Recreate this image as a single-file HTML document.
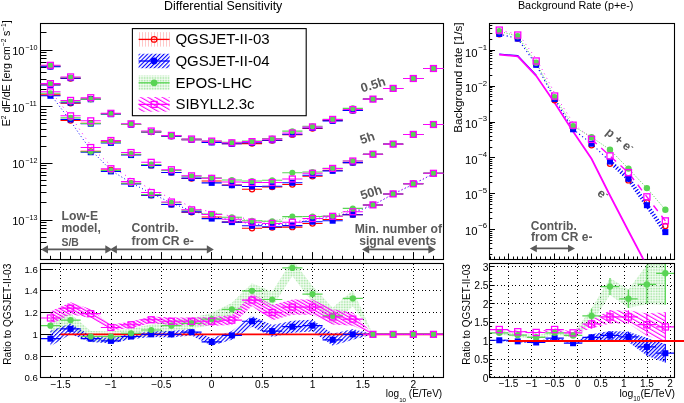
<!DOCTYPE html>
<html><head><meta charset="utf-8"><style>
html,body{margin:0;padding:0;background:#fff;width:684px;height:403px;overflow:hidden}
svg{display:block;font-family:'Liberation Sans',sans-serif;will-change:transform}
</style></head><body>
<svg width="684" height="403" viewBox="0 0 684 403">
<defs>
<pattern id="hb" patternUnits="userSpaceOnUse" width="2.9" height="2.9" patternTransform="rotate(45)"><rect x="0" y="0" width="1.1" height="2.9" fill="#0000ff"/></pattern>
<pattern id="hm" patternUnits="userSpaceOnUse" width="2.8" height="2.8" patternTransform="rotate(-60)"><rect x="0" y="0" width="1.25" height="2.8" fill="#ff00ff"/></pattern>
<pattern id="hm2" patternUnits="userSpaceOnUse" width="3.6" height="3.6" patternTransform="rotate(-60)"><rect x="0" y="0" width="1.1" height="3.6" fill="#ff00ff"/></pattern>
<pattern id="hb2" patternUnits="userSpaceOnUse" width="2.7" height="2.7" patternTransform="rotate(45)"><rect x="0" y="0" width="1.2" height="2.7" fill="#0000ff"/></pattern>
<pattern id="hg" patternUnits="userSpaceOnUse" width="1.6" height="1.6"><rect x="0" y="0" width="1" height="1" fill="#9ee49c"/></pattern>
<pattern id="hr" patternUnits="userSpaceOnUse" width="3" height="3"><rect x="0" y="0" width="1" height="3" fill="#ffcccc"/></pattern>
<clipPath id="cLT"><rect x="40.5" y="23.2" width="403.2" height="236.2"/></clipPath>
<clipPath id="cLR"><rect x="40.5" y="263.4" width="403.2" height="114.5"/></clipPath>
<clipPath id="cRT"><rect x="490" y="23.4" width="184.6" height="236"/></clipPath>
<clipPath id="cRR"><rect x="490" y="263.6" width="184.6" height="114.4"/></clipPath>
</defs>
<text x="223.2" y="10" font-size="12.4" text-anchor="middle" fill="#000" font-weight="normal">Differential Sensitivity</text>
<text x="575.7" y="9" font-size="10.8" text-anchor="middle" fill="#000" font-weight="normal">Background Rate (p+e-)</text>
<line x1="40.5" y1="259.5" x2="46.5" y2="259.5" stroke="#000" stroke-width="1"/>
<line x1="40.5" y1="249.5" x2="46.5" y2="249.5" stroke="#000" stroke-width="1"/>
<line x1="40.5" y1="242.5" x2="46.5" y2="242.5" stroke="#000" stroke-width="1"/>
<line x1="40.5" y1="237.5" x2="46.5" y2="237.5" stroke="#000" stroke-width="1"/>
<line x1="40.5" y1="232.5" x2="46.5" y2="232.5" stroke="#000" stroke-width="1"/>
<line x1="40.5" y1="228.5" x2="46.5" y2="228.5" stroke="#000" stroke-width="1"/>
<line x1="40.5" y1="225.5" x2="46.5" y2="225.5" stroke="#000" stroke-width="1"/>
<line x1="40.5" y1="222.5" x2="46.5" y2="222.5" stroke="#000" stroke-width="1"/>
<line x1="40.5" y1="220.5" x2="52.5" y2="220.5" stroke="#000" stroke-width="1"/>
<line x1="40.5" y1="202.5" x2="46.5" y2="202.5" stroke="#000" stroke-width="1"/>
<line x1="40.5" y1="192.5" x2="46.5" y2="192.5" stroke="#000" stroke-width="1"/>
<line x1="40.5" y1="185.5" x2="46.5" y2="185.5" stroke="#000" stroke-width="1"/>
<line x1="40.5" y1="180.5" x2="46.5" y2="180.5" stroke="#000" stroke-width="1"/>
<line x1="40.5" y1="175.5" x2="46.5" y2="175.5" stroke="#000" stroke-width="1"/>
<line x1="40.5" y1="172.5" x2="46.5" y2="172.5" stroke="#000" stroke-width="1"/>
<line x1="40.5" y1="168.5" x2="46.5" y2="168.5" stroke="#000" stroke-width="1"/>
<line x1="40.5" y1="165.5" x2="46.5" y2="165.5" stroke="#000" stroke-width="1"/>
<line x1="40.5" y1="163.5" x2="52.5" y2="163.5" stroke="#000" stroke-width="1"/>
<line x1="40.5" y1="146.5" x2="46.5" y2="146.5" stroke="#000" stroke-width="1"/>
<line x1="40.5" y1="136.5" x2="46.5" y2="136.5" stroke="#000" stroke-width="1"/>
<line x1="40.5" y1="129.5" x2="46.5" y2="129.5" stroke="#000" stroke-width="1"/>
<line x1="40.5" y1="123.5" x2="46.5" y2="123.5" stroke="#000" stroke-width="1"/>
<line x1="40.5" y1="119.5" x2="46.5" y2="119.5" stroke="#000" stroke-width="1"/>
<line x1="40.5" y1="115.5" x2="46.5" y2="115.5" stroke="#000" stroke-width="1"/>
<line x1="40.5" y1="112.5" x2="46.5" y2="112.5" stroke="#000" stroke-width="1"/>
<line x1="40.5" y1="109.5" x2="46.5" y2="109.5" stroke="#000" stroke-width="1"/>
<line x1="40.5" y1="106.5" x2="52.5" y2="106.5" stroke="#000" stroke-width="1"/>
<line x1="40.5" y1="89.5" x2="46.5" y2="89.5" stroke="#000" stroke-width="1"/>
<line x1="40.5" y1="79.5" x2="46.5" y2="79.5" stroke="#000" stroke-width="1"/>
<line x1="40.5" y1="72.5" x2="46.5" y2="72.5" stroke="#000" stroke-width="1"/>
<line x1="40.5" y1="67.5" x2="46.5" y2="67.5" stroke="#000" stroke-width="1"/>
<line x1="40.5" y1="62.5" x2="46.5" y2="62.5" stroke="#000" stroke-width="1"/>
<line x1="40.5" y1="58.5" x2="46.5" y2="58.5" stroke="#000" stroke-width="1"/>
<line x1="40.5" y1="55.5" x2="46.5" y2="55.5" stroke="#000" stroke-width="1"/>
<line x1="40.5" y1="52.5" x2="46.5" y2="52.5" stroke="#000" stroke-width="1"/>
<line x1="40.5" y1="50.5" x2="52.5" y2="50.5" stroke="#000" stroke-width="1"/>
<line x1="40.5" y1="32.5" x2="46.5" y2="32.5" stroke="#000" stroke-width="1"/>
<text x="24.6" y="55" font-size="11.2" text-anchor="end" fill="#000" font-weight="normal">10</text>
<text x="25.2" y="49.8" font-size="7.2" text-anchor="start" fill="#000" font-weight="normal">&#8722;10</text>
<text x="24.6" y="111.6" font-size="11.2" text-anchor="end" fill="#000" font-weight="normal">10</text>
<text x="25.2" y="106.4" font-size="7.2" text-anchor="start" fill="#000" font-weight="normal">&#8722;11</text>
<text x="24.6" y="168.2" font-size="11.2" text-anchor="end" fill="#000" font-weight="normal">10</text>
<text x="25.2" y="163" font-size="7.2" text-anchor="start" fill="#000" font-weight="normal">&#8722;12</text>
<text x="24.6" y="224.8" font-size="11.2" text-anchor="end" fill="#000" font-weight="normal">10</text>
<text x="25.2" y="219.6" font-size="7.2" text-anchor="start" fill="#000" font-weight="normal">&#8722;13</text>
<line x1="40.5" y1="259.5" x2="40.5" y2="255.8" stroke="#000" stroke-width="1"/>
<line x1="50.5" y1="259.5" x2="50.5" y2="255.8" stroke="#000" stroke-width="1"/>
<line x1="60.5" y1="259.5" x2="60.5" y2="252.1" stroke="#000" stroke-width="1"/>
<line x1="70.5" y1="259.5" x2="70.5" y2="255.8" stroke="#000" stroke-width="1"/>
<line x1="80.5" y1="259.5" x2="80.5" y2="255.8" stroke="#000" stroke-width="1"/>
<line x1="90.5" y1="259.5" x2="90.5" y2="255.8" stroke="#000" stroke-width="1"/>
<line x1="101.5" y1="259.5" x2="101.5" y2="255.8" stroke="#000" stroke-width="1"/>
<line x1="111.5" y1="259.5" x2="111.5" y2="252.1" stroke="#000" stroke-width="1"/>
<line x1="121.5" y1="259.5" x2="121.5" y2="255.8" stroke="#000" stroke-width="1"/>
<line x1="131.5" y1="259.5" x2="131.5" y2="255.8" stroke="#000" stroke-width="1"/>
<line x1="141.5" y1="259.5" x2="141.5" y2="255.8" stroke="#000" stroke-width="1"/>
<line x1="151.5" y1="259.5" x2="151.5" y2="255.8" stroke="#000" stroke-width="1"/>
<line x1="161.5" y1="259.5" x2="161.5" y2="252.1" stroke="#000" stroke-width="1"/>
<line x1="171.5" y1="259.5" x2="171.5" y2="255.8" stroke="#000" stroke-width="1"/>
<line x1="181.5" y1="259.5" x2="181.5" y2="255.8" stroke="#000" stroke-width="1"/>
<line x1="191.5" y1="259.5" x2="191.5" y2="255.8" stroke="#000" stroke-width="1"/>
<line x1="201.5" y1="259.5" x2="201.5" y2="255.8" stroke="#000" stroke-width="1"/>
<line x1="211.5" y1="259.5" x2="211.5" y2="252.1" stroke="#000" stroke-width="1"/>
<line x1="221.5" y1="259.5" x2="221.5" y2="255.8" stroke="#000" stroke-width="1"/>
<line x1="232.5" y1="259.5" x2="232.5" y2="255.8" stroke="#000" stroke-width="1"/>
<line x1="242.5" y1="259.5" x2="242.5" y2="255.8" stroke="#000" stroke-width="1"/>
<line x1="252.5" y1="259.5" x2="252.5" y2="255.8" stroke="#000" stroke-width="1"/>
<line x1="262.5" y1="259.5" x2="262.5" y2="252.1" stroke="#000" stroke-width="1"/>
<line x1="272.5" y1="259.5" x2="272.5" y2="255.8" stroke="#000" stroke-width="1"/>
<line x1="282.5" y1="259.5" x2="282.5" y2="255.8" stroke="#000" stroke-width="1"/>
<line x1="292.5" y1="259.5" x2="292.5" y2="255.8" stroke="#000" stroke-width="1"/>
<line x1="302.5" y1="259.5" x2="302.5" y2="255.8" stroke="#000" stroke-width="1"/>
<line x1="312.5" y1="259.5" x2="312.5" y2="252.1" stroke="#000" stroke-width="1"/>
<line x1="322.5" y1="259.5" x2="322.5" y2="255.8" stroke="#000" stroke-width="1"/>
<line x1="332.5" y1="259.5" x2="332.5" y2="255.8" stroke="#000" stroke-width="1"/>
<line x1="342.5" y1="259.5" x2="342.5" y2="255.8" stroke="#000" stroke-width="1"/>
<line x1="353.5" y1="259.5" x2="353.5" y2="255.8" stroke="#000" stroke-width="1"/>
<line x1="363.5" y1="259.5" x2="363.5" y2="252.1" stroke="#000" stroke-width="1"/>
<line x1="373.5" y1="259.5" x2="373.5" y2="255.8" stroke="#000" stroke-width="1"/>
<line x1="383.5" y1="259.5" x2="383.5" y2="255.8" stroke="#000" stroke-width="1"/>
<line x1="393.5" y1="259.5" x2="393.5" y2="255.8" stroke="#000" stroke-width="1"/>
<line x1="403.5" y1="259.5" x2="403.5" y2="255.8" stroke="#000" stroke-width="1"/>
<line x1="413.5" y1="259.5" x2="413.5" y2="252.1" stroke="#000" stroke-width="1"/>
<line x1="423.5" y1="259.5" x2="423.5" y2="255.8" stroke="#000" stroke-width="1"/>
<line x1="433.5" y1="259.5" x2="433.5" y2="255.8" stroke="#000" stroke-width="1"/>
<line x1="443.5" y1="259.5" x2="443.5" y2="255.8" stroke="#000" stroke-width="1"/>
<rect x="40.5" y="23.5" width="403" height="236" fill="none" stroke="#000" stroke-width="1.1"/>
<text transform="translate(10.4,126.3) rotate(-90)" font-size="10.6">E<tspan font-size="6.6" dy="-4.6">2</tspan><tspan dy="4.6"> dF/dE [erg cm</tspan><tspan font-size="6.6" dy="-4.6">&#8722;2</tspan><tspan dy="4.6" dx="-0.5"> s</tspan><tspan font-size="6.6" dy="-4.6">&#8722;1</tspan><tspan dy="4.6">]</tspan></text>
<g clip-path="url(#cLT)">
<polyline points="51,95 70.6,121 80,135 90.9,150 111.2,170.5 131.3,183 151.7,193.5 171.5,203 191.9,211 211.8,216 232.1,220.5 252,224 272.3,225 292.4,223.5 312.8,219.5 333,217 352.9,212.5 372.7,205.5 392.6,194.5 412.9,184.5 433.2,174" fill="none" stroke="#0000ff" stroke-width="1" stroke-dasharray="1 2.4"/>
<polyline points="56,98 74,121 84,136 96,152 115,169 135,181 155,191 175,200 195,208 215,213 236,217 256,220" fill="none" stroke="#ff00ff" stroke-width="1" stroke-dasharray="1 4.5"/>
<polyline points="231.86,217.32 252.02,220.81 272.18,221.29 292.34,216.6 312.5,216.47 332.66,216.11 352.82,208.39" fill="none" stroke="#59d454" stroke-width="0.9" stroke-dasharray="1 2"/>
<polyline points="231.86,219.2 252.02,222.2 272.18,223.4 292.34,222.2 312.5,218.5 332.66,216.3 352.82,211.8 372.98,204.9 393.14,193.9 413.3,183.8 433.46,173.3" fill="none" stroke="#ff00ff" stroke-width="0.9" stroke-dasharray="1 3"/>
<line x1="40.34" y1="66.33" x2="60.5" y2="66.33" stroke="#ff0000" stroke-width="1.05"/>
<line x1="40.34" y1="66.63" x2="60.5" y2="66.63" stroke="#0000ff" stroke-width="1.05"/>
<line x1="40.34" y1="65.76" x2="60.5" y2="65.76" stroke="#59d454" stroke-width="1.05"/>
<line x1="40.34" y1="65.3" x2="60.5" y2="65.3" stroke="#ff00ff" stroke-width="1.05"/>
<line x1="60.5" y1="78.49" x2="80.66" y2="78.49" stroke="#ff0000" stroke-width="1.05"/>
<line x1="60.5" y1="78.13" x2="80.66" y2="78.13" stroke="#0000ff" stroke-width="1.05"/>
<line x1="60.5" y1="77.59" x2="80.66" y2="77.59" stroke="#59d454" stroke-width="1.05"/>
<line x1="60.5" y1="76.9" x2="80.66" y2="76.9" stroke="#ff00ff" stroke-width="1.05"/>
<line x1="80.66" y1="98.98" x2="100.82" y2="98.98" stroke="#ff0000" stroke-width="1.05"/>
<line x1="80.66" y1="99.28" x2="100.82" y2="99.28" stroke="#0000ff" stroke-width="1.05"/>
<line x1="80.66" y1="99.13" x2="100.82" y2="99.13" stroke="#59d454" stroke-width="1.05"/>
<line x1="80.66" y1="97.7" x2="100.82" y2="97.7" stroke="#ff00ff" stroke-width="1.05"/>
<line x1="100.82" y1="113.75" x2="120.98" y2="113.75" stroke="#ff0000" stroke-width="1.05"/>
<line x1="100.82" y1="114.21" x2="120.98" y2="114.21" stroke="#0000ff" stroke-width="1.05"/>
<line x1="100.82" y1="113.9" x2="120.98" y2="113.9" stroke="#59d454" stroke-width="1.05"/>
<line x1="100.82" y1="113.3" x2="120.98" y2="113.3" stroke="#ff00ff" stroke-width="1.05"/>
<line x1="120.98" y1="124.42" x2="141.14" y2="124.42" stroke="#ff0000" stroke-width="1.05"/>
<line x1="120.98" y1="124.57" x2="141.14" y2="124.57" stroke="#0000ff" stroke-width="1.05"/>
<line x1="120.98" y1="124.35" x2="141.14" y2="124.35" stroke="#59d454" stroke-width="1.05"/>
<line x1="120.98" y1="123.8" x2="141.14" y2="123.8" stroke="#ff00ff" stroke-width="1.05"/>
<line x1="141.14" y1="131.93" x2="161.3" y2="131.93" stroke="#ff0000" stroke-width="1.05"/>
<line x1="141.14" y1="131.93" x2="161.3" y2="131.93" stroke="#0000ff" stroke-width="1.05"/>
<line x1="141.14" y1="131.64" x2="161.3" y2="131.64" stroke="#59d454" stroke-width="1.05"/>
<line x1="141.14" y1="131" x2="161.3" y2="131" stroke="#ff00ff" stroke-width="1.05"/>
<line x1="161.3" y1="136.24" x2="181.46" y2="136.24" stroke="#ff0000" stroke-width="1.05"/>
<line x1="161.3" y1="136.24" x2="181.46" y2="136.24" stroke="#0000ff" stroke-width="1.05"/>
<line x1="161.3" y1="135.67" x2="181.46" y2="135.67" stroke="#59d454" stroke-width="1.05"/>
<line x1="161.3" y1="135.4" x2="181.46" y2="135.4" stroke="#ff00ff" stroke-width="1.05"/>
<line x1="181.46" y1="139.84" x2="201.62" y2="139.84" stroke="#ff0000" stroke-width="1.05"/>
<line x1="181.46" y1="139.69" x2="201.62" y2="139.69" stroke="#0000ff" stroke-width="1.05"/>
<line x1="181.46" y1="139.13" x2="201.62" y2="139.13" stroke="#59d454" stroke-width="1.05"/>
<line x1="181.46" y1="139" x2="201.62" y2="139" stroke="#ff00ff" stroke-width="1.05"/>
<line x1="201.62" y1="141.94" x2="221.78" y2="141.94" stroke="#ff0000" stroke-width="1.05"/>
<line x1="201.62" y1="142.47" x2="221.78" y2="142.47" stroke="#0000ff" stroke-width="1.05"/>
<line x1="201.62" y1="140.97" x2="221.78" y2="140.97" stroke="#59d454" stroke-width="1.05"/>
<line x1="201.62" y1="141.1" x2="221.78" y2="141.1" stroke="#ff00ff" stroke-width="1.05"/>
<line x1="221.78" y1="143.7" x2="241.94" y2="143.7" stroke="#ff0000" stroke-width="1.05"/>
<line x1="221.78" y1="143.78" x2="241.94" y2="143.78" stroke="#0000ff" stroke-width="1.05"/>
<line x1="221.78" y1="142.17" x2="241.94" y2="142.17" stroke="#59d454" stroke-width="1.05"/>
<line x1="221.78" y1="142.8" x2="241.94" y2="142.8" stroke="#ff00ff" stroke-width="1.05"/>
<line x1="241.94" y1="143.62" x2="262.1" y2="143.62" stroke="#ff0000" stroke-width="1.05"/>
<line x1="241.94" y1="142.78" x2="262.1" y2="142.78" stroke="#0000ff" stroke-width="1.05"/>
<line x1="241.94" y1="141.14" x2="262.1" y2="141.14" stroke="#59d454" stroke-width="1.05"/>
<line x1="241.94" y1="141.6" x2="262.1" y2="141.6" stroke="#ff00ff" stroke-width="1.05"/>
<line x1="262.1" y1="140.44" x2="282.26" y2="140.44" stroke="#ff0000" stroke-width="1.05"/>
<line x1="262.1" y1="140.23" x2="282.26" y2="140.23" stroke="#0000ff" stroke-width="1.05"/>
<line x1="262.1" y1="138.4" x2="282.26" y2="138.4" stroke="#59d454" stroke-width="1.05"/>
<line x1="262.1" y1="139.1" x2="282.26" y2="139.1" stroke="#ff00ff" stroke-width="1.05"/>
<line x1="282.26" y1="134.65" x2="302.42" y2="134.65" stroke="#ff0000" stroke-width="1.05"/>
<line x1="282.26" y1="134.15" x2="302.42" y2="134.15" stroke="#0000ff" stroke-width="1.05"/>
<line x1="282.26" y1="131.13" x2="302.42" y2="131.13" stroke="#59d454" stroke-width="1.05"/>
<line x1="282.26" y1="133" x2="302.42" y2="133" stroke="#ff00ff" stroke-width="1.05"/>
<line x1="302.42" y1="128.55" x2="322.58" y2="128.55" stroke="#ff0000" stroke-width="1.05"/>
<line x1="302.42" y1="127.98" x2="322.58" y2="127.98" stroke="#0000ff" stroke-width="1.05"/>
<line x1="302.42" y1="126.22" x2="322.58" y2="126.22" stroke="#59d454" stroke-width="1.05"/>
<line x1="302.42" y1="126.9" x2="322.58" y2="126.9" stroke="#ff00ff" stroke-width="1.05"/>
<line x1="322.58" y1="120.49" x2="342.74" y2="120.49" stroke="#ff0000" stroke-width="1.05"/>
<line x1="322.58" y1="120.87" x2="342.74" y2="120.87" stroke="#0000ff" stroke-width="1.05"/>
<line x1="322.58" y1="119.34" x2="342.74" y2="119.34" stroke="#59d454" stroke-width="1.05"/>
<line x1="322.58" y1="119.4" x2="342.74" y2="119.4" stroke="#ff00ff" stroke-width="1.05"/>
<line x1="342.74" y1="110.47" x2="362.9" y2="110.47" stroke="#ff0000" stroke-width="1.05"/>
<line x1="342.74" y1="110.47" x2="362.9" y2="110.47" stroke="#0000ff" stroke-width="1.05"/>
<line x1="342.74" y1="108.36" x2="362.9" y2="108.36" stroke="#59d454" stroke-width="1.05"/>
<line x1="342.74" y1="109.5" x2="362.9" y2="109.5" stroke="#ff00ff" stroke-width="1.05"/>
<line x1="362.9" y1="99.1" x2="383.06" y2="99.1" stroke="#ff0000" stroke-width="1.05"/>
<line x1="362.9" y1="99.1" x2="383.06" y2="99.1" stroke="#0000ff" stroke-width="1.05"/>
<line x1="362.9" y1="99.1" x2="383.06" y2="99.1" stroke="#59d454" stroke-width="1.05"/>
<line x1="362.9" y1="99.1" x2="383.06" y2="99.1" stroke="#ff00ff" stroke-width="1.05"/>
<line x1="383.06" y1="88.4" x2="403.22" y2="88.4" stroke="#ff0000" stroke-width="1.05"/>
<line x1="383.06" y1="88.4" x2="403.22" y2="88.4" stroke="#0000ff" stroke-width="1.05"/>
<line x1="383.06" y1="88.4" x2="403.22" y2="88.4" stroke="#59d454" stroke-width="1.05"/>
<line x1="383.06" y1="88.4" x2="403.22" y2="88.4" stroke="#ff00ff" stroke-width="1.05"/>
<line x1="403.22" y1="78.5" x2="423.38" y2="78.5" stroke="#ff0000" stroke-width="1.05"/>
<line x1="403.22" y1="78.5" x2="423.38" y2="78.5" stroke="#0000ff" stroke-width="1.05"/>
<line x1="403.22" y1="78.5" x2="423.38" y2="78.5" stroke="#59d454" stroke-width="1.05"/>
<line x1="403.22" y1="78.5" x2="423.38" y2="78.5" stroke="#ff00ff" stroke-width="1.05"/>
<line x1="423.38" y1="68.5" x2="443.54" y2="68.5" stroke="#ff0000" stroke-width="1.05"/>
<line x1="423.38" y1="68.5" x2="443.54" y2="68.5" stroke="#0000ff" stroke-width="1.05"/>
<line x1="423.38" y1="68.5" x2="443.54" y2="68.5" stroke="#59d454" stroke-width="1.05"/>
<line x1="423.38" y1="68.5" x2="443.54" y2="68.5" stroke="#ff00ff" stroke-width="1.05"/>
<circle cx="50.42" cy="66.33" r="2.6" fill="none" stroke="#ff0000" stroke-width="1.2"/>
<rect x="47.42" y="63.63" width="6" height="6" fill="#0000ff"/>
<circle cx="50.42" cy="65.76" r="3" fill="#59d454"/>
<rect x="47.47" y="62.35" width="5.9" height="5.9" fill="none" stroke="#ff00ff" stroke-width="1.3"/>
<circle cx="70.58" cy="78.49" r="2.6" fill="none" stroke="#ff0000" stroke-width="1.2"/>
<rect x="67.58" y="75.13" width="6" height="6" fill="#0000ff"/>
<circle cx="70.58" cy="77.59" r="3" fill="#59d454"/>
<rect x="67.63" y="73.95" width="5.9" height="5.9" fill="none" stroke="#ff00ff" stroke-width="1.3"/>
<circle cx="90.74" cy="98.98" r="2.6" fill="none" stroke="#ff0000" stroke-width="1.2"/>
<rect x="87.74" y="96.28" width="6" height="6" fill="#0000ff"/>
<circle cx="90.74" cy="99.13" r="3" fill="#59d454"/>
<rect x="87.79" y="94.75" width="5.9" height="5.9" fill="none" stroke="#ff00ff" stroke-width="1.3"/>
<circle cx="110.9" cy="113.75" r="2.6" fill="none" stroke="#ff0000" stroke-width="1.2"/>
<rect x="107.9" y="111.21" width="6" height="6" fill="#0000ff"/>
<circle cx="110.9" cy="113.9" r="3" fill="#59d454"/>
<rect x="107.95" y="110.35" width="5.9" height="5.9" fill="none" stroke="#ff00ff" stroke-width="1.3"/>
<circle cx="131.06" cy="124.42" r="2.6" fill="none" stroke="#ff0000" stroke-width="1.2"/>
<rect x="128.06" y="121.57" width="6" height="6" fill="#0000ff"/>
<circle cx="131.06" cy="124.35" r="3" fill="#59d454"/>
<rect x="128.11" y="120.85" width="5.9" height="5.9" fill="none" stroke="#ff00ff" stroke-width="1.3"/>
<circle cx="151.22" cy="131.93" r="2.6" fill="none" stroke="#ff0000" stroke-width="1.2"/>
<rect x="148.22" y="128.93" width="6" height="6" fill="#0000ff"/>
<circle cx="151.22" cy="131.64" r="3" fill="#59d454"/>
<rect x="148.27" y="128.05" width="5.9" height="5.9" fill="none" stroke="#ff00ff" stroke-width="1.3"/>
<circle cx="171.38" cy="136.24" r="2.6" fill="none" stroke="#ff0000" stroke-width="1.2"/>
<rect x="168.38" y="133.24" width="6" height="6" fill="#0000ff"/>
<circle cx="171.38" cy="135.67" r="3" fill="#59d454"/>
<rect x="168.43" y="132.45" width="5.9" height="5.9" fill="none" stroke="#ff00ff" stroke-width="1.3"/>
<circle cx="191.54" cy="139.84" r="2.6" fill="none" stroke="#ff0000" stroke-width="1.2"/>
<rect x="188.54" y="136.69" width="6" height="6" fill="#0000ff"/>
<circle cx="191.54" cy="139.13" r="3" fill="#59d454"/>
<rect x="188.59" y="136.05" width="5.9" height="5.9" fill="none" stroke="#ff00ff" stroke-width="1.3"/>
<circle cx="211.7" cy="141.94" r="2.6" fill="none" stroke="#ff0000" stroke-width="1.2"/>
<rect x="208.7" y="139.47" width="6" height="6" fill="#0000ff"/>
<circle cx="211.7" cy="140.97" r="3" fill="#59d454"/>
<rect x="208.75" y="138.15" width="5.9" height="5.9" fill="none" stroke="#ff00ff" stroke-width="1.3"/>
<circle cx="231.86" cy="143.7" r="2.6" fill="none" stroke="#ff0000" stroke-width="1.2"/>
<rect x="228.86" y="140.78" width="6" height="6" fill="#0000ff"/>
<circle cx="231.86" cy="142.17" r="3" fill="#59d454"/>
<rect x="228.91" y="139.85" width="5.9" height="5.9" fill="none" stroke="#ff00ff" stroke-width="1.3"/>
<circle cx="252.02" cy="143.62" r="2.6" fill="none" stroke="#ff0000" stroke-width="1.2"/>
<rect x="249.02" y="139.78" width="6" height="6" fill="#0000ff"/>
<circle cx="252.02" cy="141.14" r="3" fill="#59d454"/>
<rect x="249.07" y="138.65" width="5.9" height="5.9" fill="none" stroke="#ff00ff" stroke-width="1.3"/>
<circle cx="272.18" cy="140.44" r="2.6" fill="none" stroke="#ff0000" stroke-width="1.2"/>
<rect x="269.18" y="137.23" width="6" height="6" fill="#0000ff"/>
<circle cx="272.18" cy="138.4" r="3" fill="#59d454"/>
<rect x="269.23" y="136.15" width="5.9" height="5.9" fill="none" stroke="#ff00ff" stroke-width="1.3"/>
<circle cx="292.34" cy="134.65" r="2.6" fill="none" stroke="#ff0000" stroke-width="1.2"/>
<rect x="289.34" y="131.15" width="6" height="6" fill="#0000ff"/>
<circle cx="292.34" cy="131.13" r="3" fill="#59d454"/>
<rect x="289.39" y="130.05" width="5.9" height="5.9" fill="none" stroke="#ff00ff" stroke-width="1.3"/>
<circle cx="312.5" cy="128.55" r="2.6" fill="none" stroke="#ff0000" stroke-width="1.2"/>
<rect x="309.5" y="124.98" width="6" height="6" fill="#0000ff"/>
<circle cx="312.5" cy="126.22" r="3" fill="#59d454"/>
<rect x="309.55" y="123.95" width="5.9" height="5.9" fill="none" stroke="#ff00ff" stroke-width="1.3"/>
<circle cx="332.66" cy="120.49" r="2.6" fill="none" stroke="#ff0000" stroke-width="1.2"/>
<rect x="329.66" y="117.87" width="6" height="6" fill="#0000ff"/>
<circle cx="332.66" cy="119.34" r="3" fill="#59d454"/>
<rect x="329.71" y="116.45" width="5.9" height="5.9" fill="none" stroke="#ff00ff" stroke-width="1.3"/>
<circle cx="352.82" cy="110.47" r="2.6" fill="none" stroke="#ff0000" stroke-width="1.2"/>
<rect x="349.82" y="107.47" width="6" height="6" fill="#0000ff"/>
<circle cx="352.82" cy="108.36" r="3" fill="#59d454"/>
<rect x="349.87" y="106.55" width="5.9" height="5.9" fill="none" stroke="#ff00ff" stroke-width="1.3"/>
<circle cx="372.98" cy="99.1" r="2.6" fill="none" stroke="#ff0000" stroke-width="1.2"/>
<rect x="369.98" y="96.1" width="6" height="6" fill="#0000ff"/>
<circle cx="372.98" cy="99.1" r="3" fill="#59d454"/>
<rect x="370.03" y="96.15" width="5.9" height="5.9" fill="none" stroke="#ff00ff" stroke-width="1.3"/>
<circle cx="393.14" cy="88.4" r="2.6" fill="none" stroke="#ff0000" stroke-width="1.2"/>
<rect x="390.14" y="85.4" width="6" height="6" fill="#0000ff"/>
<circle cx="393.14" cy="88.4" r="3" fill="#59d454"/>
<rect x="390.19" y="85.45" width="5.9" height="5.9" fill="none" stroke="#ff00ff" stroke-width="1.3"/>
<circle cx="413.3" cy="78.5" r="2.6" fill="none" stroke="#ff0000" stroke-width="1.2"/>
<rect x="410.3" y="75.5" width="6" height="6" fill="#0000ff"/>
<circle cx="413.3" cy="78.5" r="3" fill="#59d454"/>
<rect x="410.35" y="75.55" width="5.9" height="5.9" fill="none" stroke="#ff00ff" stroke-width="1.3"/>
<circle cx="433.46" cy="68.5" r="2.6" fill="none" stroke="#ff0000" stroke-width="1.2"/>
<rect x="430.46" y="65.5" width="6" height="6" fill="#0000ff"/>
<circle cx="433.46" cy="68.5" r="3" fill="#59d454"/>
<rect x="430.51" y="65.55" width="5.9" height="5.9" fill="none" stroke="#ff00ff" stroke-width="1.3"/>
<line x1="40.34" y1="84.63" x2="60.5" y2="84.63" stroke="#ff0000" stroke-width="1.05"/>
<line x1="40.34" y1="84.93" x2="60.5" y2="84.93" stroke="#0000ff" stroke-width="1.05"/>
<line x1="40.34" y1="84.06" x2="60.5" y2="84.06" stroke="#59d454" stroke-width="1.05"/>
<line x1="40.34" y1="83.6" x2="60.5" y2="83.6" stroke="#ff00ff" stroke-width="1.05"/>
<line x1="60.5" y1="103.31" x2="80.66" y2="103.31" stroke="#ff0000" stroke-width="1.05"/>
<line x1="60.5" y1="102.65" x2="80.66" y2="102.65" stroke="#0000ff" stroke-width="1.05"/>
<line x1="60.5" y1="101.66" x2="80.66" y2="101.66" stroke="#59d454" stroke-width="1.05"/>
<line x1="60.5" y1="100.4" x2="80.66" y2="100.4" stroke="#ff00ff" stroke-width="1.05"/>
<line x1="80.66" y1="123.15" x2="100.82" y2="123.15" stroke="#ff0000" stroke-width="1.05"/>
<line x1="80.66" y1="123.7" x2="100.82" y2="123.7" stroke="#0000ff" stroke-width="1.05"/>
<line x1="80.66" y1="123.42" x2="100.82" y2="123.42" stroke="#59d454" stroke-width="1.05"/>
<line x1="80.66" y1="120.8" x2="100.82" y2="120.8" stroke="#ff00ff" stroke-width="1.05"/>
<line x1="100.82" y1="141.7" x2="120.98" y2="141.7" stroke="#ff0000" stroke-width="1.05"/>
<line x1="100.82" y1="142.92" x2="120.98" y2="142.92" stroke="#0000ff" stroke-width="1.05"/>
<line x1="100.82" y1="142.1" x2="120.98" y2="142.1" stroke="#59d454" stroke-width="1.05"/>
<line x1="100.82" y1="140.5" x2="120.98" y2="140.5" stroke="#ff00ff" stroke-width="1.05"/>
<line x1="120.98" y1="154.57" x2="141.14" y2="154.57" stroke="#ff0000" stroke-width="1.05"/>
<line x1="120.98" y1="155.07" x2="141.14" y2="155.07" stroke="#0000ff" stroke-width="1.05"/>
<line x1="120.98" y1="154.33" x2="141.14" y2="154.33" stroke="#59d454" stroke-width="1.05"/>
<line x1="120.98" y1="152.5" x2="141.14" y2="152.5" stroke="#ff00ff" stroke-width="1.05"/>
<line x1="141.14" y1="165.39" x2="161.3" y2="165.39" stroke="#ff0000" stroke-width="1.05"/>
<line x1="141.14" y1="165.39" x2="161.3" y2="165.39" stroke="#0000ff" stroke-width="1.05"/>
<line x1="141.14" y1="164.43" x2="161.3" y2="164.43" stroke="#59d454" stroke-width="1.05"/>
<line x1="141.14" y1="162.3" x2="161.3" y2="162.3" stroke="#ff00ff" stroke-width="1.05"/>
<line x1="161.3" y1="172.49" x2="181.46" y2="172.49" stroke="#ff0000" stroke-width="1.05"/>
<line x1="161.3" y1="172.49" x2="181.46" y2="172.49" stroke="#0000ff" stroke-width="1.05"/>
<line x1="161.3" y1="170.59" x2="181.46" y2="170.59" stroke="#59d454" stroke-width="1.05"/>
<line x1="161.3" y1="169.7" x2="181.46" y2="169.7" stroke="#ff00ff" stroke-width="1.05"/>
<line x1="181.46" y1="178.59" x2="201.62" y2="178.59" stroke="#ff0000" stroke-width="1.05"/>
<line x1="181.46" y1="178.1" x2="201.62" y2="178.1" stroke="#0000ff" stroke-width="1.05"/>
<line x1="181.46" y1="176.24" x2="201.62" y2="176.24" stroke="#59d454" stroke-width="1.05"/>
<line x1="181.46" y1="175.8" x2="201.62" y2="175.8" stroke="#ff00ff" stroke-width="1.05"/>
<line x1="201.62" y1="181.09" x2="221.78" y2="181.09" stroke="#ff0000" stroke-width="1.05"/>
<line x1="201.62" y1="182.87" x2="221.78" y2="182.87" stroke="#0000ff" stroke-width="1.05"/>
<line x1="201.62" y1="177.86" x2="221.78" y2="177.86" stroke="#59d454" stroke-width="1.05"/>
<line x1="201.62" y1="178.3" x2="221.78" y2="178.3" stroke="#ff00ff" stroke-width="1.05"/>
<line x1="221.78" y1="185" x2="241.94" y2="185" stroke="#ff0000" stroke-width="1.05"/>
<line x1="221.78" y1="185.25" x2="241.94" y2="185.25" stroke="#0000ff" stroke-width="1.05"/>
<line x1="221.78" y1="179.92" x2="241.94" y2="179.92" stroke="#59d454" stroke-width="1.05"/>
<line x1="221.78" y1="182" x2="241.94" y2="182" stroke="#ff00ff" stroke-width="1.05"/>
<line x1="241.94" y1="189.23" x2="262.1" y2="189.23" stroke="#ff0000" stroke-width="1.05"/>
<line x1="241.94" y1="186.45" x2="262.1" y2="186.45" stroke="#0000ff" stroke-width="1.05"/>
<line x1="241.94" y1="180.96" x2="262.1" y2="180.96" stroke="#59d454" stroke-width="1.05"/>
<line x1="241.94" y1="182.5" x2="262.1" y2="182.5" stroke="#ff00ff" stroke-width="1.05"/>
<line x1="262.1" y1="186.98" x2="282.26" y2="186.98" stroke="#ff0000" stroke-width="1.05"/>
<line x1="262.1" y1="186.26" x2="282.26" y2="186.26" stroke="#0000ff" stroke-width="1.05"/>
<line x1="262.1" y1="180.16" x2="282.26" y2="180.16" stroke="#59d454" stroke-width="1.05"/>
<line x1="262.1" y1="182.5" x2="282.26" y2="182.5" stroke="#ff00ff" stroke-width="1.05"/>
<line x1="282.26" y1="184.49" x2="302.42" y2="184.49" stroke="#ff0000" stroke-width="1.05"/>
<line x1="282.26" y1="182.82" x2="302.42" y2="182.82" stroke="#0000ff" stroke-width="1.05"/>
<line x1="282.26" y1="172.78" x2="302.42" y2="172.78" stroke="#59d454" stroke-width="1.05"/>
<line x1="282.26" y1="179" x2="302.42" y2="179" stroke="#ff00ff" stroke-width="1.05"/>
<line x1="302.42" y1="176.32" x2="322.58" y2="176.32" stroke="#ff0000" stroke-width="1.05"/>
<line x1="302.42" y1="175.28" x2="322.58" y2="175.28" stroke="#0000ff" stroke-width="1.05"/>
<line x1="302.42" y1="172.06" x2="322.58" y2="172.06" stroke="#59d454" stroke-width="1.05"/>
<line x1="302.42" y1="173.3" x2="322.58" y2="173.3" stroke="#ff00ff" stroke-width="1.05"/>
<line x1="322.58" y1="170.22" x2="342.74" y2="170.22" stroke="#ff0000" stroke-width="1.05"/>
<line x1="322.58" y1="170.85" x2="342.74" y2="170.85" stroke="#0000ff" stroke-width="1.05"/>
<line x1="322.58" y1="168.29" x2="342.74" y2="168.29" stroke="#59d454" stroke-width="1.05"/>
<line x1="322.58" y1="168.4" x2="342.74" y2="168.4" stroke="#ff00ff" stroke-width="1.05"/>
<line x1="342.74" y1="162.61" x2="362.9" y2="162.61" stroke="#ff0000" stroke-width="1.05"/>
<line x1="342.74" y1="162.61" x2="362.9" y2="162.61" stroke="#0000ff" stroke-width="1.05"/>
<line x1="342.74" y1="161" x2="362.9" y2="161" stroke="#59d454" stroke-width="1.05"/>
<line x1="342.74" y1="161" x2="362.9" y2="161" stroke="#ff00ff" stroke-width="1.05"/>
<line x1="362.9" y1="154.2" x2="383.06" y2="154.2" stroke="#ff0000" stroke-width="1.05"/>
<line x1="362.9" y1="154.2" x2="383.06" y2="154.2" stroke="#0000ff" stroke-width="1.05"/>
<line x1="362.9" y1="154.2" x2="383.06" y2="154.2" stroke="#59d454" stroke-width="1.05"/>
<line x1="362.9" y1="154.2" x2="383.06" y2="154.2" stroke="#ff00ff" stroke-width="1.05"/>
<line x1="383.06" y1="144.1" x2="403.22" y2="144.1" stroke="#ff0000" stroke-width="1.05"/>
<line x1="383.06" y1="144.1" x2="403.22" y2="144.1" stroke="#0000ff" stroke-width="1.05"/>
<line x1="383.06" y1="144.1" x2="403.22" y2="144.1" stroke="#59d454" stroke-width="1.05"/>
<line x1="383.06" y1="144.1" x2="403.22" y2="144.1" stroke="#ff00ff" stroke-width="1.05"/>
<line x1="403.22" y1="134.4" x2="423.38" y2="134.4" stroke="#ff0000" stroke-width="1.05"/>
<line x1="403.22" y1="134.4" x2="423.38" y2="134.4" stroke="#0000ff" stroke-width="1.05"/>
<line x1="403.22" y1="134.4" x2="423.38" y2="134.4" stroke="#59d454" stroke-width="1.05"/>
<line x1="403.22" y1="134.4" x2="423.38" y2="134.4" stroke="#ff00ff" stroke-width="1.05"/>
<line x1="423.38" y1="124.5" x2="443.54" y2="124.5" stroke="#ff0000" stroke-width="1.05"/>
<line x1="423.38" y1="124.5" x2="443.54" y2="124.5" stroke="#0000ff" stroke-width="1.05"/>
<line x1="423.38" y1="124.5" x2="443.54" y2="124.5" stroke="#59d454" stroke-width="1.05"/>
<line x1="423.38" y1="124.5" x2="443.54" y2="124.5" stroke="#ff00ff" stroke-width="1.05"/>
<circle cx="50.42" cy="84.63" r="2.6" fill="none" stroke="#ff0000" stroke-width="1.2"/>
<rect x="47.42" y="81.93" width="6" height="6" fill="#0000ff"/>
<circle cx="50.42" cy="84.06" r="3" fill="#59d454"/>
<rect x="47.47" y="80.65" width="5.9" height="5.9" fill="none" stroke="#ff00ff" stroke-width="1.3"/>
<circle cx="70.58" cy="103.31" r="2.6" fill="none" stroke="#ff0000" stroke-width="1.2"/>
<rect x="67.58" y="99.65" width="6" height="6" fill="#0000ff"/>
<circle cx="70.58" cy="101.66" r="3" fill="#59d454"/>
<rect x="67.63" y="97.45" width="5.9" height="5.9" fill="none" stroke="#ff00ff" stroke-width="1.3"/>
<circle cx="90.74" cy="123.15" r="2.6" fill="none" stroke="#ff0000" stroke-width="1.2"/>
<rect x="87.74" y="120.7" width="6" height="6" fill="#0000ff"/>
<circle cx="90.74" cy="123.42" r="3" fill="#59d454"/>
<rect x="87.79" y="117.85" width="5.9" height="5.9" fill="none" stroke="#ff00ff" stroke-width="1.3"/>
<circle cx="110.9" cy="141.7" r="2.6" fill="none" stroke="#ff0000" stroke-width="1.2"/>
<rect x="107.9" y="139.92" width="6" height="6" fill="#0000ff"/>
<circle cx="110.9" cy="142.1" r="3" fill="#59d454"/>
<rect x="107.95" y="137.55" width="5.9" height="5.9" fill="none" stroke="#ff00ff" stroke-width="1.3"/>
<circle cx="131.06" cy="154.57" r="2.6" fill="none" stroke="#ff0000" stroke-width="1.2"/>
<rect x="128.06" y="152.07" width="6" height="6" fill="#0000ff"/>
<circle cx="131.06" cy="154.33" r="3" fill="#59d454"/>
<rect x="128.11" y="149.55" width="5.9" height="5.9" fill="none" stroke="#ff00ff" stroke-width="1.3"/>
<circle cx="151.22" cy="165.39" r="2.6" fill="none" stroke="#ff0000" stroke-width="1.2"/>
<rect x="148.22" y="162.39" width="6" height="6" fill="#0000ff"/>
<circle cx="151.22" cy="164.43" r="3" fill="#59d454"/>
<rect x="148.27" y="159.35" width="5.9" height="5.9" fill="none" stroke="#ff00ff" stroke-width="1.3"/>
<circle cx="171.38" cy="172.49" r="2.6" fill="none" stroke="#ff0000" stroke-width="1.2"/>
<rect x="168.38" y="169.49" width="6" height="6" fill="#0000ff"/>
<circle cx="171.38" cy="170.59" r="3" fill="#59d454"/>
<rect x="168.43" y="166.75" width="5.9" height="5.9" fill="none" stroke="#ff00ff" stroke-width="1.3"/>
<circle cx="191.54" cy="178.59" r="2.6" fill="none" stroke="#ff0000" stroke-width="1.2"/>
<rect x="188.54" y="175.1" width="6" height="6" fill="#0000ff"/>
<circle cx="191.54" cy="176.24" r="3" fill="#59d454"/>
<rect x="188.59" y="172.85" width="5.9" height="5.9" fill="none" stroke="#ff00ff" stroke-width="1.3"/>
<circle cx="211.7" cy="181.09" r="2.6" fill="none" stroke="#ff0000" stroke-width="1.2"/>
<rect x="208.7" y="179.87" width="6" height="6" fill="#0000ff"/>
<circle cx="211.7" cy="177.86" r="3" fill="#59d454"/>
<rect x="208.75" y="175.35" width="5.9" height="5.9" fill="none" stroke="#ff00ff" stroke-width="1.3"/>
<circle cx="231.86" cy="185" r="2.6" fill="none" stroke="#ff0000" stroke-width="1.2"/>
<rect x="228.86" y="182.25" width="6" height="6" fill="#0000ff"/>
<circle cx="231.86" cy="179.92" r="3" fill="#59d454"/>
<rect x="228.91" y="179.05" width="5.9" height="5.9" fill="none" stroke="#ff00ff" stroke-width="1.3"/>
<circle cx="252.02" cy="189.23" r="2.6" fill="none" stroke="#ff0000" stroke-width="1.2"/>
<rect x="249.02" y="183.45" width="6" height="6" fill="#0000ff"/>
<circle cx="252.02" cy="180.96" r="3" fill="#59d454"/>
<rect x="249.07" y="179.55" width="5.9" height="5.9" fill="none" stroke="#ff00ff" stroke-width="1.3"/>
<circle cx="272.18" cy="186.98" r="2.6" fill="none" stroke="#ff0000" stroke-width="1.2"/>
<rect x="269.18" y="183.26" width="6" height="6" fill="#0000ff"/>
<circle cx="272.18" cy="180.16" r="3" fill="#59d454"/>
<rect x="269.23" y="179.55" width="5.9" height="5.9" fill="none" stroke="#ff00ff" stroke-width="1.3"/>
<circle cx="292.34" cy="184.49" r="2.6" fill="none" stroke="#ff0000" stroke-width="1.2"/>
<rect x="289.34" y="179.82" width="6" height="6" fill="#0000ff"/>
<circle cx="292.34" cy="172.78" r="3" fill="#59d454"/>
<rect x="289.39" y="176.05" width="5.9" height="5.9" fill="none" stroke="#ff00ff" stroke-width="1.3"/>
<circle cx="312.5" cy="176.32" r="2.6" fill="none" stroke="#ff0000" stroke-width="1.2"/>
<rect x="309.5" y="172.28" width="6" height="6" fill="#0000ff"/>
<circle cx="312.5" cy="172.06" r="3" fill="#59d454"/>
<rect x="309.55" y="170.35" width="5.9" height="5.9" fill="none" stroke="#ff00ff" stroke-width="1.3"/>
<circle cx="332.66" cy="170.22" r="2.6" fill="none" stroke="#ff0000" stroke-width="1.2"/>
<rect x="329.66" y="167.85" width="6" height="6" fill="#0000ff"/>
<circle cx="332.66" cy="168.29" r="3" fill="#59d454"/>
<rect x="329.71" y="165.45" width="5.9" height="5.9" fill="none" stroke="#ff00ff" stroke-width="1.3"/>
<circle cx="352.82" cy="162.61" r="2.6" fill="none" stroke="#ff0000" stroke-width="1.2"/>
<rect x="349.82" y="159.61" width="6" height="6" fill="#0000ff"/>
<circle cx="352.82" cy="161" r="3" fill="#59d454"/>
<rect x="349.87" y="158.05" width="5.9" height="5.9" fill="none" stroke="#ff00ff" stroke-width="1.3"/>
<circle cx="372.98" cy="154.2" r="2.6" fill="none" stroke="#ff0000" stroke-width="1.2"/>
<rect x="369.98" y="151.2" width="6" height="6" fill="#0000ff"/>
<circle cx="372.98" cy="154.2" r="3" fill="#59d454"/>
<rect x="370.03" y="151.25" width="5.9" height="5.9" fill="none" stroke="#ff00ff" stroke-width="1.3"/>
<circle cx="393.14" cy="144.1" r="2.6" fill="none" stroke="#ff0000" stroke-width="1.2"/>
<rect x="390.14" y="141.1" width="6" height="6" fill="#0000ff"/>
<circle cx="393.14" cy="144.1" r="3" fill="#59d454"/>
<rect x="390.19" y="141.15" width="5.9" height="5.9" fill="none" stroke="#ff00ff" stroke-width="1.3"/>
<circle cx="413.3" cy="134.4" r="2.6" fill="none" stroke="#ff0000" stroke-width="1.2"/>
<rect x="410.3" y="131.4" width="6" height="6" fill="#0000ff"/>
<circle cx="413.3" cy="134.4" r="3" fill="#59d454"/>
<rect x="410.35" y="131.45" width="5.9" height="5.9" fill="none" stroke="#ff00ff" stroke-width="1.3"/>
<circle cx="433.46" cy="124.5" r="2.6" fill="none" stroke="#ff0000" stroke-width="1.2"/>
<rect x="430.46" y="121.5" width="6" height="6" fill="#0000ff"/>
<circle cx="433.46" cy="124.5" r="3" fill="#59d454"/>
<rect x="430.51" y="121.55" width="5.9" height="5.9" fill="none" stroke="#ff00ff" stroke-width="1.3"/>
<line x1="40.34" y1="94.89" x2="60.5" y2="94.89" stroke="#ff0000" stroke-width="1.05"/>
<line x1="40.34" y1="95.8" x2="60.5" y2="95.8" stroke="#0000ff" stroke-width="1.05"/>
<line x1="40.34" y1="93.19" x2="60.5" y2="93.19" stroke="#59d454" stroke-width="1.05"/>
<line x1="40.34" y1="91.8" x2="60.5" y2="91.8" stroke="#ff00ff" stroke-width="1.05"/>
<line x1="60.5" y1="120.56" x2="80.66" y2="120.56" stroke="#ff0000" stroke-width="1.05"/>
<line x1="60.5" y1="119.48" x2="80.66" y2="119.48" stroke="#0000ff" stroke-width="1.05"/>
<line x1="60.5" y1="117.86" x2="80.66" y2="117.86" stroke="#59d454" stroke-width="1.05"/>
<line x1="60.5" y1="115.8" x2="80.66" y2="115.8" stroke="#ff00ff" stroke-width="1.05"/>
<line x1="80.66" y1="151.35" x2="100.82" y2="151.35" stroke="#ff0000" stroke-width="1.05"/>
<line x1="80.66" y1="152.25" x2="100.82" y2="152.25" stroke="#0000ff" stroke-width="1.05"/>
<line x1="80.66" y1="151.8" x2="100.82" y2="151.8" stroke="#59d454" stroke-width="1.05"/>
<line x1="80.66" y1="147.5" x2="100.82" y2="147.5" stroke="#ff00ff" stroke-width="1.05"/>
<line x1="100.82" y1="170.05" x2="120.98" y2="170.05" stroke="#ff0000" stroke-width="1.05"/>
<line x1="100.82" y1="171.42" x2="120.98" y2="171.42" stroke="#0000ff" stroke-width="1.05"/>
<line x1="100.82" y1="170.5" x2="120.98" y2="170.5" stroke="#59d454" stroke-width="1.05"/>
<line x1="100.82" y1="168.7" x2="120.98" y2="168.7" stroke="#ff00ff" stroke-width="1.05"/>
<line x1="120.98" y1="183.47" x2="141.14" y2="183.47" stroke="#ff0000" stroke-width="1.05"/>
<line x1="120.98" y1="183.91" x2="141.14" y2="183.91" stroke="#0000ff" stroke-width="1.05"/>
<line x1="120.98" y1="183.25" x2="141.14" y2="183.25" stroke="#59d454" stroke-width="1.05"/>
<line x1="120.98" y1="181.6" x2="141.14" y2="181.6" stroke="#ff00ff" stroke-width="1.05"/>
<line x1="141.14" y1="195.28" x2="161.3" y2="195.28" stroke="#ff0000" stroke-width="1.05"/>
<line x1="141.14" y1="195.28" x2="161.3" y2="195.28" stroke="#0000ff" stroke-width="1.05"/>
<line x1="141.14" y1="194.41" x2="161.3" y2="194.41" stroke="#59d454" stroke-width="1.05"/>
<line x1="141.14" y1="192.5" x2="161.3" y2="192.5" stroke="#ff00ff" stroke-width="1.05"/>
<line x1="161.3" y1="204.51" x2="181.46" y2="204.51" stroke="#ff0000" stroke-width="1.05"/>
<line x1="161.3" y1="204.51" x2="181.46" y2="204.51" stroke="#0000ff" stroke-width="1.05"/>
<line x1="161.3" y1="202.8" x2="181.46" y2="202.8" stroke="#59d454" stroke-width="1.05"/>
<line x1="161.3" y1="202" x2="181.46" y2="202" stroke="#ff00ff" stroke-width="1.05"/>
<line x1="181.46" y1="212.31" x2="201.62" y2="212.31" stroke="#ff0000" stroke-width="1.05"/>
<line x1="181.46" y1="211.87" x2="201.62" y2="211.87" stroke="#0000ff" stroke-width="1.05"/>
<line x1="181.46" y1="210.2" x2="201.62" y2="210.2" stroke="#59d454" stroke-width="1.05"/>
<line x1="181.46" y1="209.8" x2="201.62" y2="209.8" stroke="#ff00ff" stroke-width="1.05"/>
<line x1="201.62" y1="217.01" x2="221.78" y2="217.01" stroke="#ff0000" stroke-width="1.05"/>
<line x1="201.62" y1="218.61" x2="221.78" y2="218.61" stroke="#0000ff" stroke-width="1.05"/>
<line x1="201.62" y1="214.11" x2="221.78" y2="214.11" stroke="#59d454" stroke-width="1.05"/>
<line x1="201.62" y1="214.5" x2="221.78" y2="214.5" stroke="#ff00ff" stroke-width="1.05"/>
<line x1="221.78" y1="221.9" x2="241.94" y2="221.9" stroke="#ff0000" stroke-width="1.05"/>
<line x1="221.78" y1="222.13" x2="241.94" y2="222.13" stroke="#0000ff" stroke-width="1.05"/>
<line x1="221.78" y1="217.32" x2="241.94" y2="217.32" stroke="#59d454" stroke-width="1.05"/>
<line x1="221.78" y1="219.2" x2="241.94" y2="219.2" stroke="#ff00ff" stroke-width="1.05"/>
<line x1="241.94" y1="228.26" x2="262.1" y2="228.26" stroke="#ff0000" stroke-width="1.05"/>
<line x1="241.94" y1="225.75" x2="262.1" y2="225.75" stroke="#0000ff" stroke-width="1.05"/>
<line x1="241.94" y1="220.81" x2="262.1" y2="220.81" stroke="#59d454" stroke-width="1.05"/>
<line x1="241.94" y1="222.2" x2="262.1" y2="222.2" stroke="#ff00ff" stroke-width="1.05"/>
<line x1="262.1" y1="227.43" x2="282.26" y2="227.43" stroke="#ff0000" stroke-width="1.05"/>
<line x1="262.1" y1="226.78" x2="282.26" y2="226.78" stroke="#0000ff" stroke-width="1.05"/>
<line x1="262.1" y1="221.29" x2="282.26" y2="221.29" stroke="#59d454" stroke-width="1.05"/>
<line x1="262.1" y1="223.4" x2="282.26" y2="223.4" stroke="#ff00ff" stroke-width="1.05"/>
<line x1="282.26" y1="227.14" x2="302.42" y2="227.14" stroke="#ff0000" stroke-width="1.05"/>
<line x1="282.26" y1="225.64" x2="302.42" y2="225.64" stroke="#0000ff" stroke-width="1.05"/>
<line x1="282.26" y1="216.6" x2="302.42" y2="216.6" stroke="#59d454" stroke-width="1.05"/>
<line x1="282.26" y1="222.2" x2="302.42" y2="222.2" stroke="#ff00ff" stroke-width="1.05"/>
<line x1="302.42" y1="223.44" x2="322.58" y2="223.44" stroke="#ff0000" stroke-width="1.05"/>
<line x1="302.42" y1="221.73" x2="322.58" y2="221.73" stroke="#0000ff" stroke-width="1.05"/>
<line x1="302.42" y1="216.47" x2="322.58" y2="216.47" stroke="#59d454" stroke-width="1.05"/>
<line x1="302.42" y1="218.5" x2="322.58" y2="218.5" stroke="#ff00ff" stroke-width="1.05"/>
<line x1="322.58" y1="219.58" x2="342.74" y2="219.58" stroke="#ff0000" stroke-width="1.05"/>
<line x1="322.58" y1="220.72" x2="342.74" y2="220.72" stroke="#0000ff" stroke-width="1.05"/>
<line x1="322.58" y1="216.11" x2="342.74" y2="216.11" stroke="#59d454" stroke-width="1.05"/>
<line x1="322.58" y1="216.3" x2="342.74" y2="216.3" stroke="#ff00ff" stroke-width="1.05"/>
<line x1="342.74" y1="214.7" x2="362.9" y2="214.7" stroke="#ff0000" stroke-width="1.05"/>
<line x1="342.74" y1="214.7" x2="362.9" y2="214.7" stroke="#0000ff" stroke-width="1.05"/>
<line x1="342.74" y1="208.39" x2="362.9" y2="208.39" stroke="#59d454" stroke-width="1.05"/>
<line x1="342.74" y1="211.8" x2="362.9" y2="211.8" stroke="#ff00ff" stroke-width="1.05"/>
<line x1="362.9" y1="204.9" x2="383.06" y2="204.9" stroke="#ff0000" stroke-width="1.05"/>
<line x1="362.9" y1="204.9" x2="383.06" y2="204.9" stroke="#0000ff" stroke-width="1.05"/>
<line x1="362.9" y1="204.9" x2="383.06" y2="204.9" stroke="#59d454" stroke-width="1.05"/>
<line x1="362.9" y1="204.9" x2="383.06" y2="204.9" stroke="#ff00ff" stroke-width="1.05"/>
<line x1="383.06" y1="193.9" x2="403.22" y2="193.9" stroke="#ff0000" stroke-width="1.05"/>
<line x1="383.06" y1="193.9" x2="403.22" y2="193.9" stroke="#0000ff" stroke-width="1.05"/>
<line x1="383.06" y1="193.9" x2="403.22" y2="193.9" stroke="#59d454" stroke-width="1.05"/>
<line x1="383.06" y1="193.9" x2="403.22" y2="193.9" stroke="#ff00ff" stroke-width="1.05"/>
<line x1="403.22" y1="183.8" x2="423.38" y2="183.8" stroke="#ff0000" stroke-width="1.05"/>
<line x1="403.22" y1="183.8" x2="423.38" y2="183.8" stroke="#0000ff" stroke-width="1.05"/>
<line x1="403.22" y1="183.8" x2="423.38" y2="183.8" stroke="#59d454" stroke-width="1.05"/>
<line x1="403.22" y1="183.8" x2="423.38" y2="183.8" stroke="#ff00ff" stroke-width="1.05"/>
<line x1="423.38" y1="173.3" x2="443.54" y2="173.3" stroke="#ff0000" stroke-width="1.05"/>
<line x1="423.38" y1="173.3" x2="443.54" y2="173.3" stroke="#0000ff" stroke-width="1.05"/>
<line x1="423.38" y1="173.3" x2="443.54" y2="173.3" stroke="#59d454" stroke-width="1.05"/>
<line x1="423.38" y1="173.3" x2="443.54" y2="173.3" stroke="#ff00ff" stroke-width="1.05"/>
<circle cx="50.42" cy="94.89" r="2.6" fill="none" stroke="#ff0000" stroke-width="1.2"/>
<rect x="47.42" y="92.8" width="6" height="6" fill="#0000ff"/>
<circle cx="50.42" cy="93.19" r="3" fill="#59d454"/>
<rect x="47.47" y="88.85" width="5.9" height="5.9" fill="none" stroke="#ff00ff" stroke-width="1.3"/>
<circle cx="70.58" cy="120.56" r="2.6" fill="none" stroke="#ff0000" stroke-width="1.2"/>
<rect x="67.58" y="116.48" width="6" height="6" fill="#0000ff"/>
<circle cx="70.58" cy="117.86" r="3" fill="#59d454"/>
<rect x="67.63" y="112.85" width="5.9" height="5.9" fill="none" stroke="#ff00ff" stroke-width="1.3"/>
<circle cx="90.74" cy="151.35" r="2.6" fill="none" stroke="#ff0000" stroke-width="1.2"/>
<rect x="87.74" y="149.25" width="6" height="6" fill="#0000ff"/>
<circle cx="90.74" cy="151.8" r="3" fill="#59d454"/>
<rect x="87.79" y="144.55" width="5.9" height="5.9" fill="none" stroke="#ff00ff" stroke-width="1.3"/>
<circle cx="110.9" cy="170.05" r="2.6" fill="none" stroke="#ff0000" stroke-width="1.2"/>
<rect x="107.9" y="168.42" width="6" height="6" fill="#0000ff"/>
<circle cx="110.9" cy="170.5" r="3" fill="#59d454"/>
<rect x="107.95" y="165.75" width="5.9" height="5.9" fill="none" stroke="#ff00ff" stroke-width="1.3"/>
<circle cx="131.06" cy="183.47" r="2.6" fill="none" stroke="#ff0000" stroke-width="1.2"/>
<rect x="128.06" y="180.91" width="6" height="6" fill="#0000ff"/>
<circle cx="131.06" cy="183.25" r="3" fill="#59d454"/>
<rect x="128.11" y="178.65" width="5.9" height="5.9" fill="none" stroke="#ff00ff" stroke-width="1.3"/>
<circle cx="151.22" cy="195.28" r="2.6" fill="none" stroke="#ff0000" stroke-width="1.2"/>
<rect x="148.22" y="192.28" width="6" height="6" fill="#0000ff"/>
<circle cx="151.22" cy="194.41" r="3" fill="#59d454"/>
<rect x="148.27" y="189.55" width="5.9" height="5.9" fill="none" stroke="#ff00ff" stroke-width="1.3"/>
<circle cx="171.38" cy="204.51" r="2.6" fill="none" stroke="#ff0000" stroke-width="1.2"/>
<rect x="168.38" y="201.51" width="6" height="6" fill="#0000ff"/>
<circle cx="171.38" cy="202.8" r="3" fill="#59d454"/>
<rect x="168.43" y="199.05" width="5.9" height="5.9" fill="none" stroke="#ff00ff" stroke-width="1.3"/>
<circle cx="191.54" cy="212.31" r="2.6" fill="none" stroke="#ff0000" stroke-width="1.2"/>
<rect x="188.54" y="208.87" width="6" height="6" fill="#0000ff"/>
<circle cx="191.54" cy="210.2" r="3" fill="#59d454"/>
<rect x="188.59" y="206.85" width="5.9" height="5.9" fill="none" stroke="#ff00ff" stroke-width="1.3"/>
<circle cx="211.7" cy="217.01" r="2.6" fill="none" stroke="#ff0000" stroke-width="1.2"/>
<rect x="208.7" y="215.61" width="6" height="6" fill="#0000ff"/>
<circle cx="211.7" cy="214.11" r="3" fill="#59d454"/>
<rect x="208.75" y="211.55" width="5.9" height="5.9" fill="none" stroke="#ff00ff" stroke-width="1.3"/>
<circle cx="231.86" cy="221.9" r="2.6" fill="none" stroke="#ff0000" stroke-width="1.2"/>
<rect x="228.86" y="219.13" width="6" height="6" fill="#0000ff"/>
<circle cx="231.86" cy="217.32" r="3" fill="#59d454"/>
<rect x="228.91" y="216.25" width="5.9" height="5.9" fill="none" stroke="#ff00ff" stroke-width="1.3"/>
<circle cx="252.02" cy="228.26" r="2.6" fill="none" stroke="#ff0000" stroke-width="1.2"/>
<rect x="249.02" y="222.75" width="6" height="6" fill="#0000ff"/>
<circle cx="252.02" cy="220.81" r="3" fill="#59d454"/>
<rect x="249.07" y="219.25" width="5.9" height="5.9" fill="none" stroke="#ff00ff" stroke-width="1.3"/>
<circle cx="272.18" cy="227.43" r="2.6" fill="none" stroke="#ff0000" stroke-width="1.2"/>
<rect x="269.18" y="223.78" width="6" height="6" fill="#0000ff"/>
<circle cx="272.18" cy="221.29" r="3" fill="#59d454"/>
<rect x="269.23" y="220.45" width="5.9" height="5.9" fill="none" stroke="#ff00ff" stroke-width="1.3"/>
<circle cx="292.34" cy="227.14" r="2.6" fill="none" stroke="#ff0000" stroke-width="1.2"/>
<rect x="289.34" y="222.64" width="6" height="6" fill="#0000ff"/>
<circle cx="292.34" cy="216.6" r="3" fill="#59d454"/>
<rect x="289.39" y="219.25" width="5.9" height="5.9" fill="none" stroke="#ff00ff" stroke-width="1.3"/>
<circle cx="312.5" cy="223.44" r="2.6" fill="none" stroke="#ff0000" stroke-width="1.2"/>
<rect x="309.5" y="218.73" width="6" height="6" fill="#0000ff"/>
<circle cx="312.5" cy="216.47" r="3" fill="#59d454"/>
<rect x="309.55" y="215.55" width="5.9" height="5.9" fill="none" stroke="#ff00ff" stroke-width="1.3"/>
<circle cx="332.66" cy="219.58" r="2.6" fill="none" stroke="#ff0000" stroke-width="1.2"/>
<rect x="329.66" y="217.72" width="6" height="6" fill="#0000ff"/>
<circle cx="332.66" cy="216.11" r="3" fill="#59d454"/>
<rect x="329.71" y="213.35" width="5.9" height="5.9" fill="none" stroke="#ff00ff" stroke-width="1.3"/>
<circle cx="352.82" cy="214.7" r="2.6" fill="none" stroke="#ff0000" stroke-width="1.2"/>
<rect x="349.82" y="211.7" width="6" height="6" fill="#0000ff"/>
<circle cx="352.82" cy="208.39" r="3" fill="#59d454"/>
<rect x="349.87" y="208.85" width="5.9" height="5.9" fill="none" stroke="#ff00ff" stroke-width="1.3"/>
<circle cx="372.98" cy="204.9" r="2.6" fill="none" stroke="#ff0000" stroke-width="1.2"/>
<rect x="369.98" y="201.9" width="6" height="6" fill="#0000ff"/>
<circle cx="372.98" cy="204.9" r="3" fill="#59d454"/>
<rect x="370.03" y="201.95" width="5.9" height="5.9" fill="none" stroke="#ff00ff" stroke-width="1.3"/>
<circle cx="393.14" cy="193.9" r="2.6" fill="none" stroke="#ff0000" stroke-width="1.2"/>
<rect x="390.14" y="190.9" width="6" height="6" fill="#0000ff"/>
<circle cx="393.14" cy="193.9" r="3" fill="#59d454"/>
<rect x="390.19" y="190.95" width="5.9" height="5.9" fill="none" stroke="#ff00ff" stroke-width="1.3"/>
<circle cx="413.3" cy="183.8" r="2.6" fill="none" stroke="#ff0000" stroke-width="1.2"/>
<rect x="410.3" y="180.8" width="6" height="6" fill="#0000ff"/>
<circle cx="413.3" cy="183.8" r="3" fill="#59d454"/>
<rect x="410.35" y="180.85" width="5.9" height="5.9" fill="none" stroke="#ff00ff" stroke-width="1.3"/>
<circle cx="433.46" cy="173.3" r="2.6" fill="none" stroke="#ff0000" stroke-width="1.2"/>
<rect x="430.46" y="170.3" width="6" height="6" fill="#0000ff"/>
<circle cx="433.46" cy="173.3" r="3" fill="#59d454"/>
<rect x="430.51" y="170.35" width="5.9" height="5.9" fill="none" stroke="#ff00ff" stroke-width="1.3"/>
</g>
<text x="362.3" y="92.6" font-size="12.7" text-anchor="start" fill="#595959" font-weight="bold" transform="rotate(-17.7 362.3 92.6)">0.5h</text>
<text x="361.5" y="144.2" font-size="12.7" text-anchor="start" fill="#595959" font-weight="bold" transform="rotate(-17.7 361.5 144.2)">5h</text>
<text x="362" y="199.8" font-size="12.7" text-anchor="start" fill="#595959" font-weight="bold" transform="rotate(-17.7 362 199.8)">50h</text>
<rect x="132.4" y="28.6" width="173.8" height="87.1" fill="#fff" stroke="#000" stroke-width="1.1"/>
<line x1="139.5" y1="32.15" x2="139.5" y2="46.65" stroke="#ffc8c8" stroke-width="1"/>
<line x1="142.5" y1="32.15" x2="142.5" y2="46.65" stroke="#ffc8c8" stroke-width="1"/>
<line x1="145.5" y1="32.15" x2="145.5" y2="46.65" stroke="#ffc8c8" stroke-width="1"/>
<line x1="148.5" y1="32.15" x2="148.5" y2="46.65" stroke="#ffc8c8" stroke-width="1"/>
<line x1="151.5" y1="32.15" x2="151.5" y2="46.65" stroke="#ffc8c8" stroke-width="1"/>
<line x1="154.5" y1="32.15" x2="154.5" y2="46.65" stroke="#ffc8c8" stroke-width="1"/>
<line x1="157.5" y1="32.15" x2="157.5" y2="46.65" stroke="#ffc8c8" stroke-width="1"/>
<line x1="160.5" y1="32.15" x2="160.5" y2="46.65" stroke="#ffc8c8" stroke-width="1"/>
<line x1="163.5" y1="32.15" x2="163.5" y2="46.65" stroke="#ffc8c8" stroke-width="1"/>
<line x1="166.5" y1="32.15" x2="166.5" y2="46.65" stroke="#ffc8c8" stroke-width="1"/>
<line x1="169.5" y1="32.15" x2="169.5" y2="46.65" stroke="#ffc8c8" stroke-width="1"/>
<line x1="138.6" y1="39.4" x2="169.6" y2="39.4" stroke="#ff0000" stroke-width="1.3"/>
<circle cx="154.1" cy="39.4" r="2.8" fill="none" stroke="#ff0000" stroke-width="1.2"/>
<rect x="138.6" y="53.75" width="31" height="14.5" fill="url(#hb)"/>
<line x1="138.6" y1="61" x2="169.6" y2="61" stroke="#0000ff" stroke-width="1.3"/>
<circle cx="154.1" cy="61" r="3.4" fill="#0000ff"/>
<rect x="138.6" y="75.55" width="31" height="14.5" fill="url(#hg)"/>
<line x1="138.6" y1="82.8" x2="169.6" y2="82.8" stroke="#59d454" stroke-width="1.3"/>
<circle cx="154.1" cy="82.8" r="3.4" fill="#59d454"/>
<rect x="138.6" y="97.15" width="31" height="14.5" fill="url(#hm2)"/>
<line x1="138.6" y1="104.4" x2="169.6" y2="104.4" stroke="#ff00ff" stroke-width="1.3"/>
<rect x="151.15" y="101.45" width="5.9" height="5.9" fill="none" stroke="#ff00ff" stroke-width="1.3"/>
<text x="175.4" y="44.3" font-size="15" text-anchor="start" fill="#000" font-weight="normal">QGSJET-II-03</text>
<text x="175.4" y="65.5" font-size="15" text-anchor="start" fill="#000" font-weight="normal">QGSJET-II-04</text>
<text x="175.4" y="87.5" font-size="15" text-anchor="start" fill="#000" font-weight="normal">EPOS-LHC</text>
<text x="175.4" y="109.4" font-size="15" text-anchor="start" fill="#000" font-weight="normal">SIBYLL2.3c</text>
<text x="61.5" y="220.1" font-size="12.2" text-anchor="start" fill="#595959" font-weight="bold">Low-E</text>
<text x="61.5" y="232.2" font-size="12.2" text-anchor="start" fill="#595959" font-weight="bold">model,</text>
<text x="61.5" y="245.7" font-size="10.4" text-anchor="start" fill="#595959" font-weight="bold">S/B</text>
<text x="131.6" y="232.2" font-size="12.2" text-anchor="start" fill="#595959" font-weight="bold">Contrib.</text>
<text x="131.6" y="245.3" font-size="12.2" text-anchor="start" fill="#595959" font-weight="bold">from CR e-</text>
<text x="398.3" y="232.5" font-size="12.2" text-anchor="middle" fill="#595959" font-weight="bold">Min. number of</text>
<text x="397.8" y="244.8" font-size="12.2" text-anchor="middle" fill="#595959" font-weight="bold">signal events</text>
<line x1="45.2" y1="249.4" x2="108.1" y2="249.4" stroke="#595959" stroke-width="1.7"/>
<polygon points="41,249.4 48,245.2 48,253.6" fill="#595959"/>
<polygon points="112.3,249.4 105.3,245.2 105.3,253.6" fill="#595959"/>
<line x1="114.1" y1="249.4" x2="209.6" y2="249.4" stroke="#595959" stroke-width="1.7"/>
<polygon points="109.9,249.4 116.9,245.2 116.9,253.6" fill="#595959"/>
<polygon points="213.8,249.4 206.8,245.2 206.8,253.6" fill="#595959"/>
<line x1="366.32" y1="249.4" x2="431.28" y2="249.4" stroke="#595959" stroke-width="1.7"/>
<polygon points="362,249.4 369.2,245.2 369.2,253.6" fill="#595959"/>
<polygon points="435.6,249.4 428.4,245.2 428.4,253.6" fill="#595959"/>
<line x1="60.5" y1="263.5" x2="60.5" y2="377.5" stroke="#000" stroke-width="1" stroke-dasharray="1 2.7" shape-rendering="crispEdges"/>
<line x1="111.5" y1="263.5" x2="111.5" y2="377.5" stroke="#000" stroke-width="1" stroke-dasharray="1 2.7" shape-rendering="crispEdges"/>
<line x1="161.5" y1="263.5" x2="161.5" y2="377.5" stroke="#000" stroke-width="1" stroke-dasharray="1 2.7" shape-rendering="crispEdges"/>
<line x1="211.5" y1="263.5" x2="211.5" y2="377.5" stroke="#000" stroke-width="1" stroke-dasharray="1 2.7" shape-rendering="crispEdges"/>
<line x1="262.5" y1="263.5" x2="262.5" y2="377.5" stroke="#000" stroke-width="1" stroke-dasharray="1 2.7" shape-rendering="crispEdges"/>
<line x1="312.5" y1="263.5" x2="312.5" y2="377.5" stroke="#000" stroke-width="1" stroke-dasharray="1 2.7" shape-rendering="crispEdges"/>
<line x1="363.5" y1="263.5" x2="363.5" y2="377.5" stroke="#000" stroke-width="1" stroke-dasharray="1 2.7" shape-rendering="crispEdges"/>
<line x1="413.5" y1="263.5" x2="413.5" y2="377.5" stroke="#000" stroke-width="1" stroke-dasharray="1 2.7" shape-rendering="crispEdges"/>
<line x1="40.5" y1="356.5" x2="443.5" y2="356.5" stroke="#000" stroke-width="1" stroke-dasharray="1 2.7" shape-rendering="crispEdges"/>
<line x1="40.5" y1="334.5" x2="443.5" y2="334.5" stroke="#000" stroke-width="1" stroke-dasharray="1 2.7" shape-rendering="crispEdges"/>
<line x1="40.5" y1="312.5" x2="443.5" y2="312.5" stroke="#000" stroke-width="1" stroke-dasharray="1 2.7" shape-rendering="crispEdges"/>
<line x1="40.5" y1="290.5" x2="443.5" y2="290.5" stroke="#000" stroke-width="1" stroke-dasharray="1 2.7" shape-rendering="crispEdges"/>
<line x1="40.5" y1="269.5" x2="443.5" y2="269.5" stroke="#000" stroke-width="1" stroke-dasharray="1 2.7" shape-rendering="crispEdges"/>
<line x1="40.5" y1="377.5" x2="52.1" y2="377.5" stroke="#000" stroke-width="1"/>
<text x="37.8" y="381" font-size="9.6" text-anchor="end" fill="#000" font-weight="normal">0.6</text>
<line x1="40.5" y1="356.5" x2="52.1" y2="356.5" stroke="#000" stroke-width="1"/>
<text x="37.8" y="360" font-size="9.6" text-anchor="end" fill="#000" font-weight="normal">0.8</text>
<line x1="40.5" y1="334.5" x2="52.1" y2="334.5" stroke="#000" stroke-width="1"/>
<text x="37.8" y="338" font-size="9.6" text-anchor="end" fill="#000" font-weight="normal">1</text>
<line x1="40.5" y1="312.5" x2="52.1" y2="312.5" stroke="#000" stroke-width="1"/>
<text x="37.8" y="316" font-size="9.6" text-anchor="end" fill="#000" font-weight="normal">1.2</text>
<line x1="40.5" y1="290.5" x2="52.1" y2="290.5" stroke="#000" stroke-width="1"/>
<text x="37.8" y="294" font-size="9.6" text-anchor="end" fill="#000" font-weight="normal">1.4</text>
<line x1="40.5" y1="269.5" x2="52.1" y2="269.5" stroke="#000" stroke-width="1"/>
<text x="37.8" y="273" font-size="9.6" text-anchor="end" fill="#000" font-weight="normal">1.6</text>
<line x1="40.5" y1="377.5" x2="40.5" y2="375.6" stroke="#000" stroke-width="1"/>
<line x1="50.5" y1="377.5" x2="50.5" y2="375.6" stroke="#000" stroke-width="1"/>
<line x1="60.5" y1="377.5" x2="60.5" y2="373.7" stroke="#000" stroke-width="1"/>
<line x1="70.5" y1="377.5" x2="70.5" y2="375.6" stroke="#000" stroke-width="1"/>
<line x1="80.5" y1="377.5" x2="80.5" y2="375.6" stroke="#000" stroke-width="1"/>
<line x1="90.5" y1="377.5" x2="90.5" y2="375.6" stroke="#000" stroke-width="1"/>
<line x1="101.5" y1="377.5" x2="101.5" y2="375.6" stroke="#000" stroke-width="1"/>
<line x1="111.5" y1="377.5" x2="111.5" y2="373.7" stroke="#000" stroke-width="1"/>
<line x1="121.5" y1="377.5" x2="121.5" y2="375.6" stroke="#000" stroke-width="1"/>
<line x1="131.5" y1="377.5" x2="131.5" y2="375.6" stroke="#000" stroke-width="1"/>
<line x1="141.5" y1="377.5" x2="141.5" y2="375.6" stroke="#000" stroke-width="1"/>
<line x1="151.5" y1="377.5" x2="151.5" y2="375.6" stroke="#000" stroke-width="1"/>
<line x1="161.5" y1="377.5" x2="161.5" y2="373.7" stroke="#000" stroke-width="1"/>
<line x1="171.5" y1="377.5" x2="171.5" y2="375.6" stroke="#000" stroke-width="1"/>
<line x1="181.5" y1="377.5" x2="181.5" y2="375.6" stroke="#000" stroke-width="1"/>
<line x1="191.5" y1="377.5" x2="191.5" y2="375.6" stroke="#000" stroke-width="1"/>
<line x1="201.5" y1="377.5" x2="201.5" y2="375.6" stroke="#000" stroke-width="1"/>
<line x1="211.5" y1="377.5" x2="211.5" y2="373.7" stroke="#000" stroke-width="1"/>
<line x1="221.5" y1="377.5" x2="221.5" y2="375.6" stroke="#000" stroke-width="1"/>
<line x1="232.5" y1="377.5" x2="232.5" y2="375.6" stroke="#000" stroke-width="1"/>
<line x1="242.5" y1="377.5" x2="242.5" y2="375.6" stroke="#000" stroke-width="1"/>
<line x1="252.5" y1="377.5" x2="252.5" y2="375.6" stroke="#000" stroke-width="1"/>
<line x1="262.5" y1="377.5" x2="262.5" y2="373.7" stroke="#000" stroke-width="1"/>
<line x1="272.5" y1="377.5" x2="272.5" y2="375.6" stroke="#000" stroke-width="1"/>
<line x1="282.5" y1="377.5" x2="282.5" y2="375.6" stroke="#000" stroke-width="1"/>
<line x1="292.5" y1="377.5" x2="292.5" y2="375.6" stroke="#000" stroke-width="1"/>
<line x1="302.5" y1="377.5" x2="302.5" y2="375.6" stroke="#000" stroke-width="1"/>
<line x1="312.5" y1="377.5" x2="312.5" y2="373.7" stroke="#000" stroke-width="1"/>
<line x1="322.5" y1="377.5" x2="322.5" y2="375.6" stroke="#000" stroke-width="1"/>
<line x1="332.5" y1="377.5" x2="332.5" y2="375.6" stroke="#000" stroke-width="1"/>
<line x1="342.5" y1="377.5" x2="342.5" y2="375.6" stroke="#000" stroke-width="1"/>
<line x1="353.5" y1="377.5" x2="353.5" y2="375.6" stroke="#000" stroke-width="1"/>
<line x1="363.5" y1="377.5" x2="363.5" y2="373.7" stroke="#000" stroke-width="1"/>
<line x1="373.5" y1="377.5" x2="373.5" y2="375.6" stroke="#000" stroke-width="1"/>
<line x1="383.5" y1="377.5" x2="383.5" y2="375.6" stroke="#000" stroke-width="1"/>
<line x1="393.5" y1="377.5" x2="393.5" y2="375.6" stroke="#000" stroke-width="1"/>
<line x1="403.5" y1="377.5" x2="403.5" y2="375.6" stroke="#000" stroke-width="1"/>
<line x1="413.5" y1="377.5" x2="413.5" y2="373.7" stroke="#000" stroke-width="1"/>
<line x1="423.5" y1="377.5" x2="423.5" y2="375.6" stroke="#000" stroke-width="1"/>
<line x1="433.5" y1="377.5" x2="433.5" y2="375.6" stroke="#000" stroke-width="1"/>
<line x1="443.5" y1="377.5" x2="443.5" y2="375.6" stroke="#000" stroke-width="1"/>
<text x="60.5" y="387.6" font-size="10.2" text-anchor="middle" fill="#000" font-weight="normal">&#8722;1.5</text>
<text x="110.9" y="387.6" font-size="10.2" text-anchor="middle" fill="#000" font-weight="normal">&#8722;1</text>
<text x="161.3" y="387.6" font-size="10.2" text-anchor="middle" fill="#000" font-weight="normal">&#8722;0.5</text>
<text x="211.7" y="387.6" font-size="10.2" text-anchor="middle" fill="#000" font-weight="normal">0</text>
<text x="262.1" y="387.6" font-size="10.2" text-anchor="middle" fill="#000" font-weight="normal">0.5</text>
<text x="312.5" y="387.6" font-size="10.2" text-anchor="middle" fill="#000" font-weight="normal">1</text>
<text x="362.9" y="387.6" font-size="10.2" text-anchor="middle" fill="#000" font-weight="normal">1.5</text>
<text x="413.3" y="387.6" font-size="10.2" text-anchor="middle" fill="#000" font-weight="normal">2</text>
<text x="385.8" y="397.3" font-size="10">log<tspan font-size="6.2" dy="4.5">10</tspan><tspan dy="-4.5"> (E/TeV)</tspan></text>
<text transform="translate(10.7,364.7) rotate(-90)" font-size="10.1">Ratio to QGSJET-II-03</text>
<g clip-path="url(#cLR)">
<polygon points="50.42,318 70.58,313.65 90.74,331.07 110.9,331.62 131.06,328.35 151.22,324.54 171.38,320.18 191.54,318 211.7,313.1 231.86,302.76 252.02,283.16 272.18,291.87 292.34,259.74 312.5,285.88 332.66,307.66 352.82,290.24 372.98,334.34 372.98,334.34 352.82,306.57 332.66,323.99 312.5,302.21 292.34,276.08 272.18,307.11 252.02,298.4 231.86,315.83 211.7,325.08 191.54,328.89 171.38,331.07 151.22,335.43 131.06,338.15 110.9,341.42 90.74,341.96 70.58,326.72 50.42,333.25" fill="url(#hg)"/>
<polygon points="50.42,311.47 70.58,302.21 90.74,309.29 110.9,324.76 131.06,321.49 151.22,316.48 171.38,317.46 191.54,317.46 211.7,316.92 231.86,315.28 252.02,294.05 272.18,304.94 292.34,299.49 312.5,299.49 332.66,309.29 352.82,312.56 372.98,334.34 372.98,334.34 352.82,325.63 332.66,324.54 312.5,314.74 292.34,314.74 272.18,320.18 252.02,306.03 231.86,325.08 211.7,325.63 191.54,325.08 171.38,325.08 151.22,323.01 131.06,328.02 110.9,330.2 90.74,318 70.58,314.19 50.42,324.54" fill="url(#hm)"/>
<polygon points="50.42,331.07 70.58,323.45 90.74,335.43 110.9,338.15 131.06,333.8 151.22,331.62 171.38,331.07 191.54,328.89 211.7,338.15 231.86,331.07 252.02,315.83 272.18,325.08 292.34,320.73 312.5,319.64 332.66,333.8 352.82,328.89 372.98,334.34 372.98,334.34 352.82,339.78 332.66,345.77 312.5,331.62 292.34,332.71 272.18,337.06 252.02,326.72 231.86,339.78 211.7,345.77 191.54,335.43 171.38,337.61 151.22,337.06 131.06,339.24 110.9,343.6 90.74,341.96 70.58,334.34 50.42,346.32" fill="url(#hb)"/>
<line x1="60.5" y1="334.34" x2="443.5" y2="334.34" stroke="#ff0000" stroke-width="1.8"/>
<line x1="40.34" y1="338.7" x2="60.5" y2="338.7" stroke="#0000ff" stroke-width="1.2"/>
<line x1="40.34" y1="325.63" x2="60.5" y2="325.63" stroke="#59d454" stroke-width="1.2"/>
<line x1="40.34" y1="318" x2="60.5" y2="318" stroke="#ff00ff" stroke-width="1.2"/>
<line x1="60.5" y1="328.89" x2="80.66" y2="328.89" stroke="#0000ff" stroke-width="1.2"/>
<line x1="60.5" y1="320.18" x2="80.66" y2="320.18" stroke="#59d454" stroke-width="1.2"/>
<line x1="60.5" y1="308.2" x2="80.66" y2="308.2" stroke="#ff00ff" stroke-width="1.2"/>
<line x1="80.66" y1="338.7" x2="100.82" y2="338.7" stroke="#0000ff" stroke-width="1.2"/>
<line x1="80.66" y1="336.52" x2="100.82" y2="336.52" stroke="#59d454" stroke-width="1.2"/>
<line x1="80.66" y1="313.65" x2="100.82" y2="313.65" stroke="#ff00ff" stroke-width="1.2"/>
<line x1="100.82" y1="340.87" x2="120.98" y2="340.87" stroke="#0000ff" stroke-width="1.2"/>
<line x1="100.82" y1="336.52" x2="120.98" y2="336.52" stroke="#59d454" stroke-width="1.2"/>
<line x1="100.82" y1="327.48" x2="120.98" y2="327.48" stroke="#ff00ff" stroke-width="1.2"/>
<line x1="120.98" y1="336.52" x2="141.14" y2="336.52" stroke="#0000ff" stroke-width="1.2"/>
<line x1="120.98" y1="333.25" x2="141.14" y2="333.25" stroke="#59d454" stroke-width="1.2"/>
<line x1="120.98" y1="324.76" x2="141.14" y2="324.76" stroke="#ff00ff" stroke-width="1.2"/>
<line x1="141.14" y1="334.34" x2="161.3" y2="334.34" stroke="#0000ff" stroke-width="1.2"/>
<line x1="141.14" y1="329.98" x2="161.3" y2="329.98" stroke="#59d454" stroke-width="1.2"/>
<line x1="141.14" y1="319.75" x2="161.3" y2="319.75" stroke="#ff00ff" stroke-width="1.2"/>
<line x1="161.3" y1="334.34" x2="181.46" y2="334.34" stroke="#0000ff" stroke-width="1.2"/>
<line x1="161.3" y1="325.63" x2="181.46" y2="325.63" stroke="#59d454" stroke-width="1.2"/>
<line x1="161.3" y1="321.27" x2="181.46" y2="321.27" stroke="#ff00ff" stroke-width="1.2"/>
<line x1="181.46" y1="332.16" x2="201.62" y2="332.16" stroke="#0000ff" stroke-width="1.2"/>
<line x1="181.46" y1="323.45" x2="201.62" y2="323.45" stroke="#59d454" stroke-width="1.2"/>
<line x1="181.46" y1="321.27" x2="201.62" y2="321.27" stroke="#ff00ff" stroke-width="1.2"/>
<line x1="201.62" y1="341.96" x2="221.78" y2="341.96" stroke="#0000ff" stroke-width="1.2"/>
<line x1="201.62" y1="319.09" x2="221.78" y2="319.09" stroke="#59d454" stroke-width="1.2"/>
<line x1="201.62" y1="321.27" x2="221.78" y2="321.27" stroke="#ff00ff" stroke-width="1.2"/>
<line x1="221.78" y1="335.43" x2="241.94" y2="335.43" stroke="#0000ff" stroke-width="1.2"/>
<line x1="221.78" y1="309.29" x2="241.94" y2="309.29" stroke="#59d454" stroke-width="1.2"/>
<line x1="221.78" y1="320.18" x2="241.94" y2="320.18" stroke="#ff00ff" stroke-width="1.2"/>
<line x1="241.94" y1="321.27" x2="262.1" y2="321.27" stroke="#0000ff" stroke-width="1.2"/>
<line x1="241.94" y1="290.78" x2="262.1" y2="290.78" stroke="#59d454" stroke-width="1.2"/>
<line x1="241.94" y1="300.04" x2="262.1" y2="300.04" stroke="#ff00ff" stroke-width="1.2"/>
<line x1="262.1" y1="331.07" x2="282.26" y2="331.07" stroke="#0000ff" stroke-width="1.2"/>
<line x1="262.1" y1="299.49" x2="282.26" y2="299.49" stroke="#59d454" stroke-width="1.2"/>
<line x1="262.1" y1="312.56" x2="282.26" y2="312.56" stroke="#ff00ff" stroke-width="1.2"/>
<line x1="282.26" y1="326.72" x2="302.42" y2="326.72" stroke="#0000ff" stroke-width="1.2"/>
<line x1="282.26" y1="267.91" x2="302.42" y2="267.91" stroke="#59d454" stroke-width="1.2"/>
<line x1="282.26" y1="307.11" x2="302.42" y2="307.11" stroke="#ff00ff" stroke-width="1.2"/>
<line x1="302.42" y1="325.63" x2="322.58" y2="325.63" stroke="#0000ff" stroke-width="1.2"/>
<line x1="302.42" y1="294.05" x2="322.58" y2="294.05" stroke="#59d454" stroke-width="1.2"/>
<line x1="302.42" y1="307.11" x2="322.58" y2="307.11" stroke="#ff00ff" stroke-width="1.2"/>
<line x1="322.58" y1="339.78" x2="342.74" y2="339.78" stroke="#0000ff" stroke-width="1.2"/>
<line x1="322.58" y1="315.83" x2="342.74" y2="315.83" stroke="#59d454" stroke-width="1.2"/>
<line x1="322.58" y1="316.92" x2="342.74" y2="316.92" stroke="#ff00ff" stroke-width="1.2"/>
<line x1="342.74" y1="334.34" x2="362.9" y2="334.34" stroke="#0000ff" stroke-width="1.2"/>
<line x1="342.74" y1="298.4" x2="362.9" y2="298.4" stroke="#59d454" stroke-width="1.2"/>
<line x1="342.74" y1="319.09" x2="362.9" y2="319.09" stroke="#ff00ff" stroke-width="1.2"/>
<line x1="362.9" y1="334.34" x2="383.06" y2="334.34" stroke="#0000ff" stroke-width="1.2"/>
<line x1="362.9" y1="334.34" x2="383.06" y2="334.34" stroke="#59d454" stroke-width="1.2"/>
<line x1="362.9" y1="334.34" x2="383.06" y2="334.34" stroke="#ff00ff" stroke-width="1.2"/>
<line x1="383.06" y1="334.34" x2="403.22" y2="334.34" stroke="#0000ff" stroke-width="1.2"/>
<line x1="383.06" y1="334.34" x2="403.22" y2="334.34" stroke="#59d454" stroke-width="1.2"/>
<line x1="383.06" y1="334.34" x2="403.22" y2="334.34" stroke="#ff00ff" stroke-width="1.2"/>
<line x1="403.22" y1="334.34" x2="423.38" y2="334.34" stroke="#0000ff" stroke-width="1.2"/>
<line x1="403.22" y1="334.34" x2="423.38" y2="334.34" stroke="#59d454" stroke-width="1.2"/>
<line x1="403.22" y1="334.34" x2="423.38" y2="334.34" stroke="#ff00ff" stroke-width="1.2"/>
<line x1="423.38" y1="334.34" x2="443.54" y2="334.34" stroke="#0000ff" stroke-width="1.2"/>
<line x1="423.38" y1="334.34" x2="443.54" y2="334.34" stroke="#59d454" stroke-width="1.2"/>
<line x1="423.38" y1="334.34" x2="443.54" y2="334.34" stroke="#ff00ff" stroke-width="1.2"/>
<rect x="47.42" y="335.7" width="6" height="6" fill="#0000ff"/>
<circle cx="50.42" cy="325.63" r="3.1" fill="#59d454"/>
<rect x="47.42" y="315" width="6" height="6" fill="none" stroke="#ff00ff" stroke-width="1.2"/>
<rect x="67.58" y="325.89" width="6" height="6" fill="#0000ff"/>
<circle cx="70.58" cy="320.18" r="3.1" fill="#59d454"/>
<rect x="67.58" y="305.2" width="6" height="6" fill="none" stroke="#ff00ff" stroke-width="1.2"/>
<rect x="87.74" y="335.7" width="6" height="6" fill="#0000ff"/>
<circle cx="90.74" cy="336.52" r="3.1" fill="#59d454"/>
<rect x="87.74" y="310.65" width="6" height="6" fill="none" stroke="#ff00ff" stroke-width="1.2"/>
<rect x="107.9" y="337.87" width="6" height="6" fill="#0000ff"/>
<circle cx="110.9" cy="336.52" r="3.1" fill="#59d454"/>
<rect x="107.9" y="324.48" width="6" height="6" fill="none" stroke="#ff00ff" stroke-width="1.2"/>
<rect x="128.06" y="333.52" width="6" height="6" fill="#0000ff"/>
<circle cx="131.06" cy="333.25" r="3.1" fill="#59d454"/>
<rect x="128.06" y="321.76" width="6" height="6" fill="none" stroke="#ff00ff" stroke-width="1.2"/>
<rect x="148.22" y="331.34" width="6" height="6" fill="#0000ff"/>
<circle cx="151.22" cy="329.98" r="3.1" fill="#59d454"/>
<rect x="148.22" y="316.75" width="6" height="6" fill="none" stroke="#ff00ff" stroke-width="1.2"/>
<rect x="168.38" y="331.34" width="6" height="6" fill="#0000ff"/>
<circle cx="171.38" cy="325.63" r="3.1" fill="#59d454"/>
<rect x="168.38" y="318.27" width="6" height="6" fill="none" stroke="#ff00ff" stroke-width="1.2"/>
<rect x="188.54" y="329.16" width="6" height="6" fill="#0000ff"/>
<circle cx="191.54" cy="323.45" r="3.1" fill="#59d454"/>
<rect x="188.54" y="318.27" width="6" height="6" fill="none" stroke="#ff00ff" stroke-width="1.2"/>
<rect x="208.7" y="338.96" width="6" height="6" fill="#0000ff"/>
<circle cx="211.7" cy="319.09" r="3.1" fill="#59d454"/>
<rect x="208.7" y="318.27" width="6" height="6" fill="none" stroke="#ff00ff" stroke-width="1.2"/>
<rect x="228.86" y="332.43" width="6" height="6" fill="#0000ff"/>
<circle cx="231.86" cy="309.29" r="3.1" fill="#59d454"/>
<rect x="228.86" y="317.18" width="6" height="6" fill="none" stroke="#ff00ff" stroke-width="1.2"/>
<rect x="249.02" y="318.27" width="6" height="6" fill="#0000ff"/>
<circle cx="252.02" cy="290.78" r="3.1" fill="#59d454"/>
<rect x="249.02" y="297.04" width="6" height="6" fill="none" stroke="#ff00ff" stroke-width="1.2"/>
<rect x="269.18" y="328.07" width="6" height="6" fill="#0000ff"/>
<circle cx="272.18" cy="299.49" r="3.1" fill="#59d454"/>
<rect x="269.18" y="309.56" width="6" height="6" fill="none" stroke="#ff00ff" stroke-width="1.2"/>
<rect x="289.34" y="323.72" width="6" height="6" fill="#0000ff"/>
<circle cx="292.34" cy="267.91" r="3.1" fill="#59d454"/>
<rect x="289.34" y="304.11" width="6" height="6" fill="none" stroke="#ff00ff" stroke-width="1.2"/>
<rect x="309.5" y="322.63" width="6" height="6" fill="#0000ff"/>
<circle cx="312.5" cy="294.05" r="3.1" fill="#59d454"/>
<rect x="309.5" y="304.11" width="6" height="6" fill="none" stroke="#ff00ff" stroke-width="1.2"/>
<rect x="329.66" y="336.78" width="6" height="6" fill="#0000ff"/>
<circle cx="332.66" cy="315.83" r="3.1" fill="#59d454"/>
<rect x="329.66" y="313.92" width="6" height="6" fill="none" stroke="#ff00ff" stroke-width="1.2"/>
<rect x="349.82" y="331.34" width="6" height="6" fill="#0000ff"/>
<circle cx="352.82" cy="298.4" r="3.1" fill="#59d454"/>
<rect x="349.82" y="316.09" width="6" height="6" fill="none" stroke="#ff00ff" stroke-width="1.2"/>
<rect x="369.98" y="331.34" width="6" height="6" fill="#0000ff"/>
<circle cx="372.98" cy="334.34" r="3.1" fill="#59d454"/>
<rect x="369.98" y="331.34" width="6" height="6" fill="none" stroke="#ff00ff" stroke-width="1.2"/>
<rect x="390.14" y="331.34" width="6" height="6" fill="#0000ff"/>
<circle cx="393.14" cy="334.34" r="3.1" fill="#59d454"/>
<rect x="390.14" y="331.34" width="6" height="6" fill="none" stroke="#ff00ff" stroke-width="1.2"/>
<rect x="410.3" y="331.34" width="6" height="6" fill="#0000ff"/>
<circle cx="413.3" cy="334.34" r="3.1" fill="#59d454"/>
<rect x="410.3" y="331.34" width="6" height="6" fill="none" stroke="#ff00ff" stroke-width="1.2"/>
<rect x="430.46" y="331.34" width="6" height="6" fill="#0000ff"/>
<circle cx="433.46" cy="334.34" r="3.1" fill="#59d454"/>
<rect x="430.46" y="331.34" width="6" height="6" fill="none" stroke="#ff00ff" stroke-width="1.2"/>
</g>
<rect x="40.5" y="263.5" width="403" height="114" fill="none" stroke="#000" stroke-width="1.1"/>
<line x1="489.5" y1="254.5" x2="492.3" y2="254.5" stroke="#000" stroke-width="1"/>
<line x1="489.5" y1="248.5" x2="492.3" y2="248.5" stroke="#000" stroke-width="1"/>
<line x1="489.5" y1="243.5" x2="492.3" y2="243.5" stroke="#000" stroke-width="1"/>
<line x1="489.5" y1="240.5" x2="492.3" y2="240.5" stroke="#000" stroke-width="1"/>
<line x1="489.5" y1="237.5" x2="492.3" y2="237.5" stroke="#000" stroke-width="1"/>
<line x1="489.5" y1="235.5" x2="492.3" y2="235.5" stroke="#000" stroke-width="1"/>
<line x1="489.5" y1="233.5" x2="492.3" y2="233.5" stroke="#000" stroke-width="1"/>
<line x1="489.5" y1="231.5" x2="492.3" y2="231.5" stroke="#000" stroke-width="1"/>
<line x1="489.5" y1="229.5" x2="495" y2="229.5" stroke="#000" stroke-width="1"/>
<line x1="489.5" y1="218.5" x2="492.3" y2="218.5" stroke="#000" stroke-width="1"/>
<line x1="489.5" y1="212.5" x2="492.3" y2="212.5" stroke="#000" stroke-width="1"/>
<line x1="489.5" y1="208.5" x2="492.3" y2="208.5" stroke="#000" stroke-width="1"/>
<line x1="489.5" y1="204.5" x2="492.3" y2="204.5" stroke="#000" stroke-width="1"/>
<line x1="489.5" y1="201.5" x2="492.3" y2="201.5" stroke="#000" stroke-width="1"/>
<line x1="489.5" y1="199.5" x2="492.3" y2="199.5" stroke="#000" stroke-width="1"/>
<line x1="489.5" y1="197.5" x2="492.3" y2="197.5" stroke="#000" stroke-width="1"/>
<line x1="489.5" y1="195.5" x2="492.3" y2="195.5" stroke="#000" stroke-width="1"/>
<line x1="489.5" y1="193.5" x2="495" y2="193.5" stroke="#000" stroke-width="1"/>
<line x1="489.5" y1="182.5" x2="492.3" y2="182.5" stroke="#000" stroke-width="1"/>
<line x1="489.5" y1="176.5" x2="492.3" y2="176.5" stroke="#000" stroke-width="1"/>
<line x1="489.5" y1="172.5" x2="492.3" y2="172.5" stroke="#000" stroke-width="1"/>
<line x1="489.5" y1="168.5" x2="492.3" y2="168.5" stroke="#000" stroke-width="1"/>
<line x1="489.5" y1="165.5" x2="492.3" y2="165.5" stroke="#000" stroke-width="1"/>
<line x1="489.5" y1="163.5" x2="492.3" y2="163.5" stroke="#000" stroke-width="1"/>
<line x1="489.5" y1="161.5" x2="492.3" y2="161.5" stroke="#000" stroke-width="1"/>
<line x1="489.5" y1="159.5" x2="492.3" y2="159.5" stroke="#000" stroke-width="1"/>
<line x1="489.5" y1="157.5" x2="495" y2="157.5" stroke="#000" stroke-width="1"/>
<line x1="489.5" y1="147.5" x2="492.3" y2="147.5" stroke="#000" stroke-width="1"/>
<line x1="489.5" y1="140.5" x2="492.3" y2="140.5" stroke="#000" stroke-width="1"/>
<line x1="489.5" y1="136.5" x2="492.3" y2="136.5" stroke="#000" stroke-width="1"/>
<line x1="489.5" y1="132.5" x2="492.3" y2="132.5" stroke="#000" stroke-width="1"/>
<line x1="489.5" y1="129.5" x2="492.3" y2="129.5" stroke="#000" stroke-width="1"/>
<line x1="489.5" y1="127.5" x2="492.3" y2="127.5" stroke="#000" stroke-width="1"/>
<line x1="489.5" y1="125.5" x2="492.3" y2="125.5" stroke="#000" stroke-width="1"/>
<line x1="489.5" y1="123.5" x2="492.3" y2="123.5" stroke="#000" stroke-width="1"/>
<line x1="489.5" y1="122.5" x2="495" y2="122.5" stroke="#000" stroke-width="1"/>
<line x1="489.5" y1="111.5" x2="492.3" y2="111.5" stroke="#000" stroke-width="1"/>
<line x1="489.5" y1="104.5" x2="492.3" y2="104.5" stroke="#000" stroke-width="1"/>
<line x1="489.5" y1="100.5" x2="492.3" y2="100.5" stroke="#000" stroke-width="1"/>
<line x1="489.5" y1="96.5" x2="492.3" y2="96.5" stroke="#000" stroke-width="1"/>
<line x1="489.5" y1="94.5" x2="492.3" y2="94.5" stroke="#000" stroke-width="1"/>
<line x1="489.5" y1="91.5" x2="492.3" y2="91.5" stroke="#000" stroke-width="1"/>
<line x1="489.5" y1="89.5" x2="492.3" y2="89.5" stroke="#000" stroke-width="1"/>
<line x1="489.5" y1="87.5" x2="492.3" y2="87.5" stroke="#000" stroke-width="1"/>
<line x1="489.5" y1="86.5" x2="495" y2="86.5" stroke="#000" stroke-width="1"/>
<line x1="489.5" y1="75.5" x2="492.3" y2="75.5" stroke="#000" stroke-width="1"/>
<line x1="489.5" y1="68.5" x2="492.3" y2="68.5" stroke="#000" stroke-width="1"/>
<line x1="489.5" y1="64.5" x2="492.3" y2="64.5" stroke="#000" stroke-width="1"/>
<line x1="489.5" y1="61.5" x2="492.3" y2="61.5" stroke="#000" stroke-width="1"/>
<line x1="489.5" y1="58.5" x2="492.3" y2="58.5" stroke="#000" stroke-width="1"/>
<line x1="489.5" y1="55.5" x2="492.3" y2="55.5" stroke="#000" stroke-width="1"/>
<line x1="489.5" y1="53.5" x2="492.3" y2="53.5" stroke="#000" stroke-width="1"/>
<line x1="489.5" y1="51.5" x2="492.3" y2="51.5" stroke="#000" stroke-width="1"/>
<line x1="489.5" y1="50.5" x2="495" y2="50.5" stroke="#000" stroke-width="1"/>
<line x1="489.5" y1="39.5" x2="492.3" y2="39.5" stroke="#000" stroke-width="1"/>
<line x1="489.5" y1="33.5" x2="492.3" y2="33.5" stroke="#000" stroke-width="1"/>
<line x1="489.5" y1="28.5" x2="492.3" y2="28.5" stroke="#000" stroke-width="1"/>
<line x1="489.5" y1="25.5" x2="492.3" y2="25.5" stroke="#000" stroke-width="1"/>
<text x="477.6" y="56.5" font-size="11.3" text-anchor="end" fill="#000" font-weight="normal">10</text>
<text x="478.2" y="49.8" font-size="7.8" text-anchor="start" fill="#000" font-weight="normal">&#8722;1</text>
<text x="477.6" y="92.2" font-size="11.3" text-anchor="end" fill="#000" font-weight="normal">10</text>
<text x="478.2" y="85.5" font-size="7.8" text-anchor="start" fill="#000" font-weight="normal">&#8722;2</text>
<text x="477.6" y="127.9" font-size="11.3" text-anchor="end" fill="#000" font-weight="normal">10</text>
<text x="478.2" y="121.2" font-size="7.8" text-anchor="start" fill="#000" font-weight="normal">&#8722;3</text>
<text x="477.6" y="163.6" font-size="11.3" text-anchor="end" fill="#000" font-weight="normal">10</text>
<text x="478.2" y="156.9" font-size="7.8" text-anchor="start" fill="#000" font-weight="normal">&#8722;4</text>
<text x="477.6" y="199.3" font-size="11.3" text-anchor="end" fill="#000" font-weight="normal">10</text>
<text x="478.2" y="192.6" font-size="7.8" text-anchor="start" fill="#000" font-weight="normal">&#8722;5</text>
<text x="477.6" y="235" font-size="11.3" text-anchor="end" fill="#000" font-weight="normal">10</text>
<text x="478.2" y="228.3" font-size="7.8" text-anchor="start" fill="#000" font-weight="normal">&#8722;6</text>
<line x1="490.5" y1="259.5" x2="490.5" y2="256.5" stroke="#000" stroke-width="1"/>
<line x1="494.5" y1="259.5" x2="494.5" y2="256.5" stroke="#000" stroke-width="1"/>
<line x1="499.5" y1="259.5" x2="499.5" y2="256.5" stroke="#000" stroke-width="1"/>
<line x1="504.5" y1="259.5" x2="504.5" y2="256.5" stroke="#000" stroke-width="1"/>
<line x1="508.5" y1="259.5" x2="508.5" y2="253.5" stroke="#000" stroke-width="1"/>
<line x1="513.5" y1="259.5" x2="513.5" y2="256.5" stroke="#000" stroke-width="1"/>
<line x1="517.5" y1="259.5" x2="517.5" y2="256.5" stroke="#000" stroke-width="1"/>
<line x1="522.5" y1="259.5" x2="522.5" y2="256.5" stroke="#000" stroke-width="1"/>
<line x1="527.5" y1="259.5" x2="527.5" y2="256.5" stroke="#000" stroke-width="1"/>
<line x1="531.5" y1="259.5" x2="531.5" y2="253.5" stroke="#000" stroke-width="1"/>
<line x1="536.5" y1="259.5" x2="536.5" y2="256.5" stroke="#000" stroke-width="1"/>
<line x1="540.5" y1="259.5" x2="540.5" y2="256.5" stroke="#000" stroke-width="1"/>
<line x1="545.5" y1="259.5" x2="545.5" y2="256.5" stroke="#000" stroke-width="1"/>
<line x1="550.5" y1="259.5" x2="550.5" y2="256.5" stroke="#000" stroke-width="1"/>
<line x1="554.5" y1="259.5" x2="554.5" y2="253.5" stroke="#000" stroke-width="1"/>
<line x1="559.5" y1="259.5" x2="559.5" y2="256.5" stroke="#000" stroke-width="1"/>
<line x1="564.5" y1="259.5" x2="564.5" y2="256.5" stroke="#000" stroke-width="1"/>
<line x1="568.5" y1="259.5" x2="568.5" y2="256.5" stroke="#000" stroke-width="1"/>
<line x1="573.5" y1="259.5" x2="573.5" y2="256.5" stroke="#000" stroke-width="1"/>
<line x1="577.5" y1="259.5" x2="577.5" y2="253.5" stroke="#000" stroke-width="1"/>
<line x1="582.5" y1="259.5" x2="582.5" y2="256.5" stroke="#000" stroke-width="1"/>
<line x1="587.5" y1="259.5" x2="587.5" y2="256.5" stroke="#000" stroke-width="1"/>
<line x1="591.5" y1="259.5" x2="591.5" y2="256.5" stroke="#000" stroke-width="1"/>
<line x1="596.5" y1="259.5" x2="596.5" y2="256.5" stroke="#000" stroke-width="1"/>
<line x1="600.5" y1="259.5" x2="600.5" y2="253.5" stroke="#000" stroke-width="1"/>
<line x1="605.5" y1="259.5" x2="605.5" y2="256.5" stroke="#000" stroke-width="1"/>
<line x1="610.5" y1="259.5" x2="610.5" y2="256.5" stroke="#000" stroke-width="1"/>
<line x1="614.5" y1="259.5" x2="614.5" y2="256.5" stroke="#000" stroke-width="1"/>
<line x1="619.5" y1="259.5" x2="619.5" y2="256.5" stroke="#000" stroke-width="1"/>
<line x1="624.5" y1="259.5" x2="624.5" y2="253.5" stroke="#000" stroke-width="1"/>
<line x1="628.5" y1="259.5" x2="628.5" y2="256.5" stroke="#000" stroke-width="1"/>
<line x1="633.5" y1="259.5" x2="633.5" y2="256.5" stroke="#000" stroke-width="1"/>
<line x1="637.5" y1="259.5" x2="637.5" y2="256.5" stroke="#000" stroke-width="1"/>
<line x1="642.5" y1="259.5" x2="642.5" y2="256.5" stroke="#000" stroke-width="1"/>
<line x1="647.5" y1="259.5" x2="647.5" y2="253.5" stroke="#000" stroke-width="1"/>
<line x1="651.5" y1="259.5" x2="651.5" y2="256.5" stroke="#000" stroke-width="1"/>
<line x1="656.5" y1="259.5" x2="656.5" y2="256.5" stroke="#000" stroke-width="1"/>
<line x1="660.5" y1="259.5" x2="660.5" y2="256.5" stroke="#000" stroke-width="1"/>
<line x1="665.5" y1="259.5" x2="665.5" y2="256.5" stroke="#000" stroke-width="1"/>
<line x1="670.5" y1="259.5" x2="670.5" y2="253.5" stroke="#000" stroke-width="1"/>
<line x1="674.5" y1="259.5" x2="674.5" y2="256.5" stroke="#000" stroke-width="1"/>
<rect x="489.5" y="23.5" width="185" height="236" fill="none" stroke="#000" stroke-width="1.1"/>
<text transform="translate(462,132.7) rotate(-90)" font-size="11.6">Background rate [1/s]</text>
<g clip-path="url(#cRT)">
<polyline points="499.28,54 517.73,55.7 536.18,75.2" fill="none" stroke="#0000ff" stroke-width="1.2"/>
<polyline points="499.28,54.6 517.73,56.3 536.18,75.8 554.63,102.8 573.09,131.5 591.54,158.8 609.99,195.5 628.44,231 646.9,266" fill="none" stroke="#ff00ff" stroke-width="1.8"/>
<polyline points="499.28,31.22 517.73,36.2 536.18,62.72 554.63,97.12 573.09,126.13 591.54,137.16 609.99,149.68 628.44,168.6 646.9,188.11 665.35,209.77" fill="none" stroke="#59d454" stroke-width="1" stroke-dasharray="1 1.5"/>
<polyline points="499.28,33.99 517.73,38.66 536.18,64.83 554.63,99.01 573.09,129.26 591.54,143.72 609.99,161.53" fill="none" stroke="#0000ff" stroke-width="1.1" stroke-dasharray="1.2 2.6"/>
<polyline points="609.99,161.53 628.44,178.78 646.9,205.2 665.35,232.11" fill="none" stroke="#0000ff" stroke-width="4.2" stroke-dasharray="1.2 1.8"/>
<polyline points="500.78,30.11 519.23,35.04 537.68,60.99 556.13,96.01 574.59,125.22 593.04,139.33" fill="none" stroke="#ff00ff" stroke-width="0.9" stroke-dasharray="1 4"/>
<polyline points="591.54,139.33 609.99,155.94 628.44,172.64 646.9,196.85 665.35,220.91" fill="none" stroke="#ff00ff" stroke-width="1.4" stroke-dasharray="7 6"/>
<circle cx="499.28" cy="34.3" r="2.6" fill="none" stroke="#ff0000" stroke-width="1.2"/>
<rect x="496.28" y="30.99" width="6" height="6" fill="#0000ff"/>
<circle cx="499.28" cy="31.22" r="3.2" fill="#59d454"/>
<rect x="496.23" y="27.06" width="6.1" height="6.1" fill="none" stroke="#ff00ff" stroke-width="1.3"/>
<circle cx="517.73" cy="38.5" r="2.6" fill="none" stroke="#ff0000" stroke-width="1.2"/>
<rect x="514.73" y="35.66" width="6" height="6" fill="#0000ff"/>
<circle cx="517.73" cy="36.2" r="3.2" fill="#59d454"/>
<rect x="514.68" y="31.99" width="6.1" height="6.1" fill="none" stroke="#ff00ff" stroke-width="1.3"/>
<circle cx="536.18" cy="64.2" r="2.6" fill="none" stroke="#ff0000" stroke-width="1.2"/>
<rect x="533.18" y="61.83" width="6" height="6" fill="#0000ff"/>
<circle cx="536.18" cy="62.72" r="3.2" fill="#59d454"/>
<rect x="533.13" y="57.94" width="6.1" height="6.1" fill="none" stroke="#ff00ff" stroke-width="1.3"/>
<circle cx="554.63" cy="100.2" r="2.6" fill="none" stroke="#ff0000" stroke-width="1.2"/>
<rect x="551.63" y="96.01" width="6" height="6" fill="#0000ff"/>
<circle cx="554.63" cy="97.12" r="3.2" fill="#59d454"/>
<rect x="551.59" y="92.96" width="6.1" height="6.1" fill="none" stroke="#ff00ff" stroke-width="1.3"/>
<circle cx="573.09" cy="128.3" r="2.6" fill="none" stroke="#ff0000" stroke-width="1.2"/>
<rect x="570.09" y="126.26" width="6" height="6" fill="#0000ff"/>
<circle cx="573.09" cy="126.13" r="3.2" fill="#59d454"/>
<rect x="570.04" y="122.17" width="6.1" height="6.1" fill="none" stroke="#ff00ff" stroke-width="1.3"/>
<circle cx="591.54" cy="145.2" r="2.6" fill="none" stroke="#ff0000" stroke-width="1.2"/>
<rect x="588.54" y="140.72" width="6" height="6" fill="#0000ff"/>
<circle cx="591.54" cy="137.16" r="3.2" fill="#59d454"/>
<rect x="588.49" y="136.28" width="6.1" height="6.1" fill="none" stroke="#ff00ff" stroke-width="1.3"/>
<circle cx="609.99" cy="163.7" r="2.6" fill="none" stroke="#ff0000" stroke-width="1.2"/>
<rect x="606.99" y="158.53" width="6" height="6" fill="#0000ff"/>
<circle cx="609.99" cy="149.68" r="3.2" fill="#59d454"/>
<rect x="606.94" y="152.89" width="6.1" height="6.1" fill="none" stroke="#ff00ff" stroke-width="1.3"/>
<circle cx="628.44" cy="180.4" r="2.6" fill="none" stroke="#ff0000" stroke-width="1.2"/>
<rect x="625.44" y="175.78" width="6" height="6" fill="#0000ff"/>
<circle cx="628.44" cy="168.6" r="3.2" fill="#59d454"/>
<rect x="625.39" y="169.59" width="6.1" height="6.1" fill="none" stroke="#ff00ff" stroke-width="1.3"/>
<circle cx="646.9" cy="202.5" r="2.6" fill="none" stroke="#ff0000" stroke-width="1.2"/>
<rect x="643.9" y="202.2" width="6" height="6" fill="#0000ff"/>
<circle cx="646.9" cy="188.11" r="3.2" fill="#59d454"/>
<rect x="643.85" y="193.8" width="6.1" height="6.1" fill="none" stroke="#ff00ff" stroke-width="1.3"/>
<circle cx="665.35" cy="225.9" r="2.6" fill="none" stroke="#ff0000" stroke-width="1.2"/>
<rect x="662.35" y="229.11" width="6" height="6" fill="#0000ff"/>
<circle cx="665.35" cy="209.77" r="3.2" fill="#59d454"/>
<rect x="662.3" y="217.86" width="6.1" height="6.1" fill="none" stroke="#ff00ff" stroke-width="1.3"/>
</g>
<text x="605" y="133.5" font-size="12.3" text-anchor="start" fill="#595959" font-weight="bold" transform="rotate(39 605 133.5)">p + e<tspan font-size="8" dy="-4.5">-</tspan></text>
<text x="596.5" y="194.5" font-size="12.3" text-anchor="start" fill="#595959" font-weight="bold" transform="rotate(39 596.5 194.5)">e<tspan font-size="8" dy="-4.5">-</tspan></text>
<text x="530.8" y="229.9" font-size="12" text-anchor="start" fill="#595959" font-weight="bold">Contrib.</text>
<text x="531.1" y="241.3" font-size="12" text-anchor="start" fill="#595959" font-weight="bold">from CR e-</text>
<line x1="534" y1="248.4" x2="570.8" y2="248.4" stroke="#595959" stroke-width="1.7"/>
<polygon points="529.8,248.4 536.8,244.65 536.8,252.15" fill="#595959"/>
<polygon points="575,248.4 568,244.65 568,252.15" fill="#595959"/>
<line x1="508.5" y1="263.5" x2="508.5" y2="377.5" stroke="#000" stroke-width="1" stroke-dasharray="1 2.7" shape-rendering="crispEdges"/>
<line x1="531.5" y1="263.5" x2="531.5" y2="377.5" stroke="#000" stroke-width="1" stroke-dasharray="1 2.7" shape-rendering="crispEdges"/>
<line x1="554.5" y1="263.5" x2="554.5" y2="377.5" stroke="#000" stroke-width="1" stroke-dasharray="1 2.7" shape-rendering="crispEdges"/>
<line x1="577.5" y1="263.5" x2="577.5" y2="377.5" stroke="#000" stroke-width="1" stroke-dasharray="1 2.7" shape-rendering="crispEdges"/>
<line x1="600.5" y1="263.5" x2="600.5" y2="377.5" stroke="#000" stroke-width="1" stroke-dasharray="1 2.7" shape-rendering="crispEdges"/>
<line x1="624.5" y1="263.5" x2="624.5" y2="377.5" stroke="#000" stroke-width="1" stroke-dasharray="1 2.7" shape-rendering="crispEdges"/>
<line x1="647.5" y1="263.5" x2="647.5" y2="377.5" stroke="#000" stroke-width="1" stroke-dasharray="1 2.7" shape-rendering="crispEdges"/>
<line x1="670.5" y1="263.5" x2="670.5" y2="377.5" stroke="#000" stroke-width="1" stroke-dasharray="1 2.7" shape-rendering="crispEdges"/>
<line x1="489.5" y1="359.5" x2="674.5" y2="359.5" stroke="#000" stroke-width="1" stroke-dasharray="1 2.7" shape-rendering="crispEdges"/>
<line x1="489.5" y1="340.5" x2="674.5" y2="340.5" stroke="#000" stroke-width="1" stroke-dasharray="1 2.7" shape-rendering="crispEdges"/>
<line x1="489.5" y1="322.5" x2="674.5" y2="322.5" stroke="#000" stroke-width="1" stroke-dasharray="1 2.7" shape-rendering="crispEdges"/>
<line x1="489.5" y1="303.5" x2="674.5" y2="303.5" stroke="#000" stroke-width="1" stroke-dasharray="1 2.7" shape-rendering="crispEdges"/>
<line x1="489.5" y1="285.5" x2="674.5" y2="285.5" stroke="#000" stroke-width="1" stroke-dasharray="1 2.7" shape-rendering="crispEdges"/>
<line x1="489.5" y1="266.5" x2="674.5" y2="266.5" stroke="#000" stroke-width="1" stroke-dasharray="1 2.7" shape-rendering="crispEdges"/>
<line x1="489.5" y1="377.5" x2="494.7" y2="377.5" stroke="#000" stroke-width="1"/>
<line x1="489.5" y1="374.5" x2="492.1" y2="374.5" stroke="#000" stroke-width="1"/>
<line x1="489.5" y1="370.5" x2="492.1" y2="370.5" stroke="#000" stroke-width="1"/>
<line x1="489.5" y1="366.5" x2="492.1" y2="366.5" stroke="#000" stroke-width="1"/>
<line x1="489.5" y1="363.5" x2="492.1" y2="363.5" stroke="#000" stroke-width="1"/>
<line x1="489.5" y1="359.5" x2="494.7" y2="359.5" stroke="#000" stroke-width="1"/>
<line x1="489.5" y1="355.5" x2="492.1" y2="355.5" stroke="#000" stroke-width="1"/>
<line x1="489.5" y1="352.5" x2="492.1" y2="352.5" stroke="#000" stroke-width="1"/>
<line x1="489.5" y1="348.5" x2="492.1" y2="348.5" stroke="#000" stroke-width="1"/>
<line x1="489.5" y1="344.5" x2="492.1" y2="344.5" stroke="#000" stroke-width="1"/>
<line x1="489.5" y1="340.5" x2="494.7" y2="340.5" stroke="#000" stroke-width="1"/>
<line x1="489.5" y1="337.5" x2="492.1" y2="337.5" stroke="#000" stroke-width="1"/>
<line x1="489.5" y1="333.5" x2="492.1" y2="333.5" stroke="#000" stroke-width="1"/>
<line x1="489.5" y1="329.5" x2="492.1" y2="329.5" stroke="#000" stroke-width="1"/>
<line x1="489.5" y1="326.5" x2="492.1" y2="326.5" stroke="#000" stroke-width="1"/>
<line x1="489.5" y1="322.5" x2="494.7" y2="322.5" stroke="#000" stroke-width="1"/>
<line x1="489.5" y1="318.5" x2="492.1" y2="318.5" stroke="#000" stroke-width="1"/>
<line x1="489.5" y1="315.5" x2="492.1" y2="315.5" stroke="#000" stroke-width="1"/>
<line x1="489.5" y1="311.5" x2="492.1" y2="311.5" stroke="#000" stroke-width="1"/>
<line x1="489.5" y1="307.5" x2="492.1" y2="307.5" stroke="#000" stroke-width="1"/>
<line x1="489.5" y1="303.5" x2="494.7" y2="303.5" stroke="#000" stroke-width="1"/>
<line x1="489.5" y1="300.5" x2="492.1" y2="300.5" stroke="#000" stroke-width="1"/>
<line x1="489.5" y1="296.5" x2="492.1" y2="296.5" stroke="#000" stroke-width="1"/>
<line x1="489.5" y1="292.5" x2="492.1" y2="292.5" stroke="#000" stroke-width="1"/>
<line x1="489.5" y1="289.5" x2="492.1" y2="289.5" stroke="#000" stroke-width="1"/>
<line x1="489.5" y1="285.5" x2="494.7" y2="285.5" stroke="#000" stroke-width="1"/>
<line x1="489.5" y1="281.5" x2="492.1" y2="281.5" stroke="#000" stroke-width="1"/>
<line x1="489.5" y1="278.5" x2="492.1" y2="278.5" stroke="#000" stroke-width="1"/>
<line x1="489.5" y1="274.5" x2="492.1" y2="274.5" stroke="#000" stroke-width="1"/>
<line x1="489.5" y1="270.5" x2="492.1" y2="270.5" stroke="#000" stroke-width="1"/>
<line x1="489.5" y1="266.5" x2="494.7" y2="266.5" stroke="#000" stroke-width="1"/>
<line x1="489.5" y1="263.5" x2="492.1" y2="263.5" stroke="#000" stroke-width="1"/>
<text x="488.6" y="381.7" font-size="10.3" text-anchor="end" fill="#000" font-weight="normal">0</text>
<text x="488.6" y="363.2" font-size="10.3" text-anchor="end" fill="#000" font-weight="normal">0.5</text>
<text x="488.6" y="344.7" font-size="10.3" text-anchor="end" fill="#000" font-weight="normal">1</text>
<text x="488.6" y="326.2" font-size="10.3" text-anchor="end" fill="#000" font-weight="normal">1.5</text>
<text x="488.6" y="307.7" font-size="10.3" text-anchor="end" fill="#000" font-weight="normal">2</text>
<text x="488.6" y="289.2" font-size="10.3" text-anchor="end" fill="#000" font-weight="normal">2.5</text>
<text x="488.6" y="270.7" font-size="10.3" text-anchor="end" fill="#000" font-weight="normal">3</text>
<line x1="490.5" y1="377.5" x2="490.5" y2="376.2" stroke="#000" stroke-width="1"/>
<line x1="494.5" y1="377.5" x2="494.5" y2="376.2" stroke="#000" stroke-width="1"/>
<line x1="499.5" y1="377.5" x2="499.5" y2="376.2" stroke="#000" stroke-width="1"/>
<line x1="504.5" y1="377.5" x2="504.5" y2="376.2" stroke="#000" stroke-width="1"/>
<line x1="508.5" y1="377.5" x2="508.5" y2="374.9" stroke="#000" stroke-width="1"/>
<line x1="513.5" y1="377.5" x2="513.5" y2="376.2" stroke="#000" stroke-width="1"/>
<line x1="517.5" y1="377.5" x2="517.5" y2="376.2" stroke="#000" stroke-width="1"/>
<line x1="522.5" y1="377.5" x2="522.5" y2="376.2" stroke="#000" stroke-width="1"/>
<line x1="527.5" y1="377.5" x2="527.5" y2="376.2" stroke="#000" stroke-width="1"/>
<line x1="531.5" y1="377.5" x2="531.5" y2="374.9" stroke="#000" stroke-width="1"/>
<line x1="536.5" y1="377.5" x2="536.5" y2="376.2" stroke="#000" stroke-width="1"/>
<line x1="540.5" y1="377.5" x2="540.5" y2="376.2" stroke="#000" stroke-width="1"/>
<line x1="545.5" y1="377.5" x2="545.5" y2="376.2" stroke="#000" stroke-width="1"/>
<line x1="550.5" y1="377.5" x2="550.5" y2="376.2" stroke="#000" stroke-width="1"/>
<line x1="554.5" y1="377.5" x2="554.5" y2="374.9" stroke="#000" stroke-width="1"/>
<line x1="559.5" y1="377.5" x2="559.5" y2="376.2" stroke="#000" stroke-width="1"/>
<line x1="564.5" y1="377.5" x2="564.5" y2="376.2" stroke="#000" stroke-width="1"/>
<line x1="568.5" y1="377.5" x2="568.5" y2="376.2" stroke="#000" stroke-width="1"/>
<line x1="573.5" y1="377.5" x2="573.5" y2="376.2" stroke="#000" stroke-width="1"/>
<line x1="577.5" y1="377.5" x2="577.5" y2="374.9" stroke="#000" stroke-width="1"/>
<line x1="582.5" y1="377.5" x2="582.5" y2="376.2" stroke="#000" stroke-width="1"/>
<line x1="587.5" y1="377.5" x2="587.5" y2="376.2" stroke="#000" stroke-width="1"/>
<line x1="591.5" y1="377.5" x2="591.5" y2="376.2" stroke="#000" stroke-width="1"/>
<line x1="596.5" y1="377.5" x2="596.5" y2="376.2" stroke="#000" stroke-width="1"/>
<line x1="600.5" y1="377.5" x2="600.5" y2="374.9" stroke="#000" stroke-width="1"/>
<line x1="605.5" y1="377.5" x2="605.5" y2="376.2" stroke="#000" stroke-width="1"/>
<line x1="610.5" y1="377.5" x2="610.5" y2="376.2" stroke="#000" stroke-width="1"/>
<line x1="614.5" y1="377.5" x2="614.5" y2="376.2" stroke="#000" stroke-width="1"/>
<line x1="619.5" y1="377.5" x2="619.5" y2="376.2" stroke="#000" stroke-width="1"/>
<line x1="624.5" y1="377.5" x2="624.5" y2="374.9" stroke="#000" stroke-width="1"/>
<line x1="628.5" y1="377.5" x2="628.5" y2="376.2" stroke="#000" stroke-width="1"/>
<line x1="633.5" y1="377.5" x2="633.5" y2="376.2" stroke="#000" stroke-width="1"/>
<line x1="637.5" y1="377.5" x2="637.5" y2="376.2" stroke="#000" stroke-width="1"/>
<line x1="642.5" y1="377.5" x2="642.5" y2="376.2" stroke="#000" stroke-width="1"/>
<line x1="647.5" y1="377.5" x2="647.5" y2="374.9" stroke="#000" stroke-width="1"/>
<line x1="651.5" y1="377.5" x2="651.5" y2="376.2" stroke="#000" stroke-width="1"/>
<line x1="656.5" y1="377.5" x2="656.5" y2="376.2" stroke="#000" stroke-width="1"/>
<line x1="660.5" y1="377.5" x2="660.5" y2="376.2" stroke="#000" stroke-width="1"/>
<line x1="665.5" y1="377.5" x2="665.5" y2="376.2" stroke="#000" stroke-width="1"/>
<line x1="670.5" y1="377.5" x2="670.5" y2="374.9" stroke="#000" stroke-width="1"/>
<line x1="674.5" y1="377.5" x2="674.5" y2="376.2" stroke="#000" stroke-width="1"/>
<text x="508.51" y="387.4" font-size="10" text-anchor="middle" fill="#000" font-weight="normal">&#8722;1.5</text>
<text x="531.57" y="387.4" font-size="10" text-anchor="middle" fill="#000" font-weight="normal">&#8722;1</text>
<text x="554.63" y="387.4" font-size="10" text-anchor="middle" fill="#000" font-weight="normal">&#8722;0.5</text>
<text x="577.7" y="387.4" font-size="10" text-anchor="middle" fill="#000" font-weight="normal">0</text>
<text x="600.77" y="387.4" font-size="10" text-anchor="middle" fill="#000" font-weight="normal">0.5</text>
<text x="623.83" y="387.4" font-size="10" text-anchor="middle" fill="#000" font-weight="normal">1</text>
<text x="646.9" y="387.4" font-size="10" text-anchor="middle" fill="#000" font-weight="normal">1.5</text>
<text x="669.96" y="387.4" font-size="10" text-anchor="middle" fill="#000" font-weight="normal">2</text>
<text x="619.4" y="396.6" font-size="10.4">log<tspan font-size="6.4" dy="4.5">10</tspan><tspan dy="-4.5">(E/TeV)</tspan></text>
<text transform="translate(470,364.7) rotate(-90)" font-size="10.05">Ratio to QGSJET-II-03</text>
<g clip-path="url(#cRR)">
<polygon points="499.28,331.01 517.73,333.23 536.18,335.45 554.63,331.01 573.09,333.23 591.54,308.44 609.99,278.1 628.44,289.57 646.9,264.78 665.35,241.84 665.35,304.74 646.9,304 628.44,308.07 609.99,295.12 591.54,323.24 573.09,337.67 554.63,334.71 536.18,339.15 517.73,336.93 499.28,334.71" fill="url(#hg)"/>
<polygon points="499.28,328.42 517.73,330.64 536.18,331.38 554.63,328.42 573.09,331.38 591.54,319.54 609.99,310.29 628.44,310.29 646.9,313.62 665.35,312.14 665.35,341.74 646.9,335.82 628.44,323.61 609.99,323.61 591.54,328.42 573.09,334.34 554.63,330.64 536.18,333.6 517.73,332.86 499.28,330.64" fill="url(#hm2)"/>
<polygon points="499.28,339.33 517.73,340.44 536.18,341.56 554.63,337.12 573.09,342.11 591.54,334.34 609.99,331.01 628.44,331.75 646.9,338.04 665.35,343.96 665.35,362.46 646.9,355.8 628.44,342.11 609.99,339.89 591.54,340.26 573.09,344.33 554.63,338.96 536.18,343.4 517.73,342.3 499.28,341.19" fill="url(#hb2)"/>
<line x1="490.08" y1="340.26" x2="508.48" y2="340.26" stroke="#0000ff" stroke-width="1.2"/>
<line x1="490.08" y1="332.86" x2="508.48" y2="332.86" stroke="#59d454" stroke-width="1.2"/>
<line x1="490.08" y1="329.53" x2="508.48" y2="329.53" stroke="#ff00ff" stroke-width="1.2"/>
<line x1="508.53" y1="341.37" x2="526.93" y2="341.37" stroke="#0000ff" stroke-width="1.2"/>
<line x1="508.53" y1="335.08" x2="526.93" y2="335.08" stroke="#59d454" stroke-width="1.2"/>
<line x1="508.53" y1="331.75" x2="526.93" y2="331.75" stroke="#ff00ff" stroke-width="1.2"/>
<line x1="526.98" y1="342.48" x2="545.38" y2="342.48" stroke="#0000ff" stroke-width="1.2"/>
<line x1="526.98" y1="337.3" x2="545.38" y2="337.3" stroke="#59d454" stroke-width="1.2"/>
<line x1="526.98" y1="332.49" x2="545.38" y2="332.49" stroke="#ff00ff" stroke-width="1.2"/>
<line x1="545.43" y1="338.04" x2="563.84" y2="338.04" stroke="#0000ff" stroke-width="1.2"/>
<line x1="545.43" y1="332.86" x2="563.84" y2="332.86" stroke="#59d454" stroke-width="1.2"/>
<line x1="545.43" y1="329.53" x2="563.84" y2="329.53" stroke="#ff00ff" stroke-width="1.2"/>
<line x1="563.89" y1="343.22" x2="582.29" y2="343.22" stroke="#0000ff" stroke-width="1.2"/>
<line x1="563.89" y1="335.45" x2="582.29" y2="335.45" stroke="#59d454" stroke-width="1.2"/>
<line x1="563.89" y1="332.86" x2="582.29" y2="332.86" stroke="#ff00ff" stroke-width="1.2"/>
<line x1="582.34" y1="337.3" x2="600.74" y2="337.3" stroke="#0000ff" stroke-width="1.2"/>
<line x1="582.34" y1="315.84" x2="600.74" y2="315.84" stroke="#59d454" stroke-width="1.2"/>
<line x1="582.34" y1="323.98" x2="600.74" y2="323.98" stroke="#ff00ff" stroke-width="1.2"/>
<line x1="600.79" y1="335.45" x2="619.19" y2="335.45" stroke="#0000ff" stroke-width="1.2"/>
<line x1="600.79" y1="286.61" x2="619.19" y2="286.61" stroke="#59d454" stroke-width="1.2"/>
<line x1="600.79" y1="316.95" x2="619.19" y2="316.95" stroke="#ff00ff" stroke-width="1.2"/>
<line x1="619.24" y1="336.93" x2="637.64" y2="336.93" stroke="#0000ff" stroke-width="1.2"/>
<line x1="619.24" y1="298.82" x2="637.64" y2="298.82" stroke="#59d454" stroke-width="1.2"/>
<line x1="619.24" y1="316.95" x2="637.64" y2="316.95" stroke="#ff00ff" stroke-width="1.2"/>
<line x1="637.7" y1="346.92" x2="656.1" y2="346.92" stroke="#0000ff" stroke-width="1.2"/>
<line x1="637.7" y1="284.39" x2="656.1" y2="284.39" stroke="#59d454" stroke-width="1.2"/>
<line x1="637.7" y1="324.72" x2="656.1" y2="324.72" stroke="#ff00ff" stroke-width="1.2"/>
<line x1="656.15" y1="353.21" x2="674.55" y2="353.21" stroke="#0000ff" stroke-width="1.2"/>
<line x1="656.15" y1="273.29" x2="674.55" y2="273.29" stroke="#59d454" stroke-width="1.2"/>
<line x1="656.15" y1="326.94" x2="674.55" y2="326.94" stroke="#ff00ff" stroke-width="1.2"/>
<line x1="591.54" y1="308.44" x2="591.54" y2="323.24" stroke="#59d454" stroke-width="1.2"/>
<line x1="591.54" y1="319.54" x2="591.54" y2="328.42" stroke="#ff00ff" stroke-width="1.1"/>
<line x1="591.54" y1="334.34" x2="591.54" y2="340.26" stroke="#0000ff" stroke-width="1.1"/>
<line x1="609.99" y1="278.1" x2="609.99" y2="295.12" stroke="#59d454" stroke-width="1.2"/>
<line x1="609.99" y1="310.29" x2="609.99" y2="323.61" stroke="#ff00ff" stroke-width="1.1"/>
<line x1="609.99" y1="331.01" x2="609.99" y2="339.89" stroke="#0000ff" stroke-width="1.1"/>
<line x1="628.44" y1="289.57" x2="628.44" y2="308.07" stroke="#59d454" stroke-width="1.2"/>
<line x1="628.44" y1="310.29" x2="628.44" y2="323.61" stroke="#ff00ff" stroke-width="1.1"/>
<line x1="628.44" y1="331.75" x2="628.44" y2="342.11" stroke="#0000ff" stroke-width="1.1"/>
<line x1="646.9" y1="264.78" x2="646.9" y2="304" stroke="#59d454" stroke-width="1.2"/>
<line x1="646.9" y1="313.62" x2="646.9" y2="335.82" stroke="#ff00ff" stroke-width="1.1"/>
<line x1="646.9" y1="338.04" x2="646.9" y2="355.8" stroke="#0000ff" stroke-width="1.1"/>
<line x1="665.35" y1="241.84" x2="665.35" y2="304.74" stroke="#59d454" stroke-width="1.2"/>
<line x1="665.35" y1="312.14" x2="665.35" y2="341.74" stroke="#ff00ff" stroke-width="1.1"/>
<line x1="665.35" y1="343.96" x2="665.35" y2="362.46" stroke="#0000ff" stroke-width="1.1"/>
<rect x="496.28" y="337.26" width="6" height="6" fill="#0000ff"/>
<circle cx="499.28" cy="332.86" r="3.2" fill="#59d454"/>
<rect x="496.18" y="326.43" width="6.2" height="6.2" fill="none" stroke="#ff00ff" stroke-width="1.2"/>
<rect x="514.73" y="338.37" width="6" height="6" fill="#0000ff"/>
<circle cx="517.73" cy="335.08" r="3.2" fill="#59d454"/>
<rect x="514.63" y="328.65" width="6.2" height="6.2" fill="none" stroke="#ff00ff" stroke-width="1.2"/>
<rect x="533.18" y="339.48" width="6" height="6" fill="#0000ff"/>
<circle cx="536.18" cy="337.3" r="3.2" fill="#59d454"/>
<rect x="533.08" y="329.39" width="6.2" height="6.2" fill="none" stroke="#ff00ff" stroke-width="1.2"/>
<rect x="551.63" y="335.04" width="6" height="6" fill="#0000ff"/>
<circle cx="554.63" cy="332.86" r="3.2" fill="#59d454"/>
<rect x="551.53" y="326.43" width="6.2" height="6.2" fill="none" stroke="#ff00ff" stroke-width="1.2"/>
<rect x="570.09" y="340.22" width="6" height="6" fill="#0000ff"/>
<circle cx="573.09" cy="335.45" r="3.2" fill="#59d454"/>
<rect x="569.99" y="329.76" width="6.2" height="6.2" fill="none" stroke="#ff00ff" stroke-width="1.2"/>
<rect x="588.54" y="334.3" width="6" height="6" fill="#0000ff"/>
<circle cx="591.54" cy="315.84" r="3.2" fill="#59d454"/>
<rect x="588.44" y="320.88" width="6.2" height="6.2" fill="none" stroke="#ff00ff" stroke-width="1.2"/>
<rect x="606.99" y="332.45" width="6" height="6" fill="#0000ff"/>
<circle cx="609.99" cy="286.61" r="3.2" fill="#59d454"/>
<rect x="606.89" y="313.85" width="6.2" height="6.2" fill="none" stroke="#ff00ff" stroke-width="1.2"/>
<rect x="625.44" y="333.93" width="6" height="6" fill="#0000ff"/>
<circle cx="628.44" cy="298.82" r="3.2" fill="#59d454"/>
<rect x="625.34" y="313.85" width="6.2" height="6.2" fill="none" stroke="#ff00ff" stroke-width="1.2"/>
<rect x="643.9" y="343.92" width="6" height="6" fill="#0000ff"/>
<circle cx="646.9" cy="284.39" r="3.2" fill="#59d454"/>
<rect x="643.8" y="321.62" width="6.2" height="6.2" fill="none" stroke="#ff00ff" stroke-width="1.2"/>
<rect x="662.35" y="350.21" width="6" height="6" fill="#0000ff"/>
<circle cx="665.35" cy="273.29" r="3.2" fill="#59d454"/>
<rect x="662.25" y="323.84" width="6.2" height="6.2" fill="none" stroke="#ff00ff" stroke-width="1.2"/>
</g>
<rect x="489.5" y="263.5" width="185" height="114" fill="none" stroke="#000" stroke-width="1.1"/>
<line x1="508.51" y1="341" x2="684" y2="341" stroke="#ff0000" stroke-width="1.8"/>
</svg></body></html>
